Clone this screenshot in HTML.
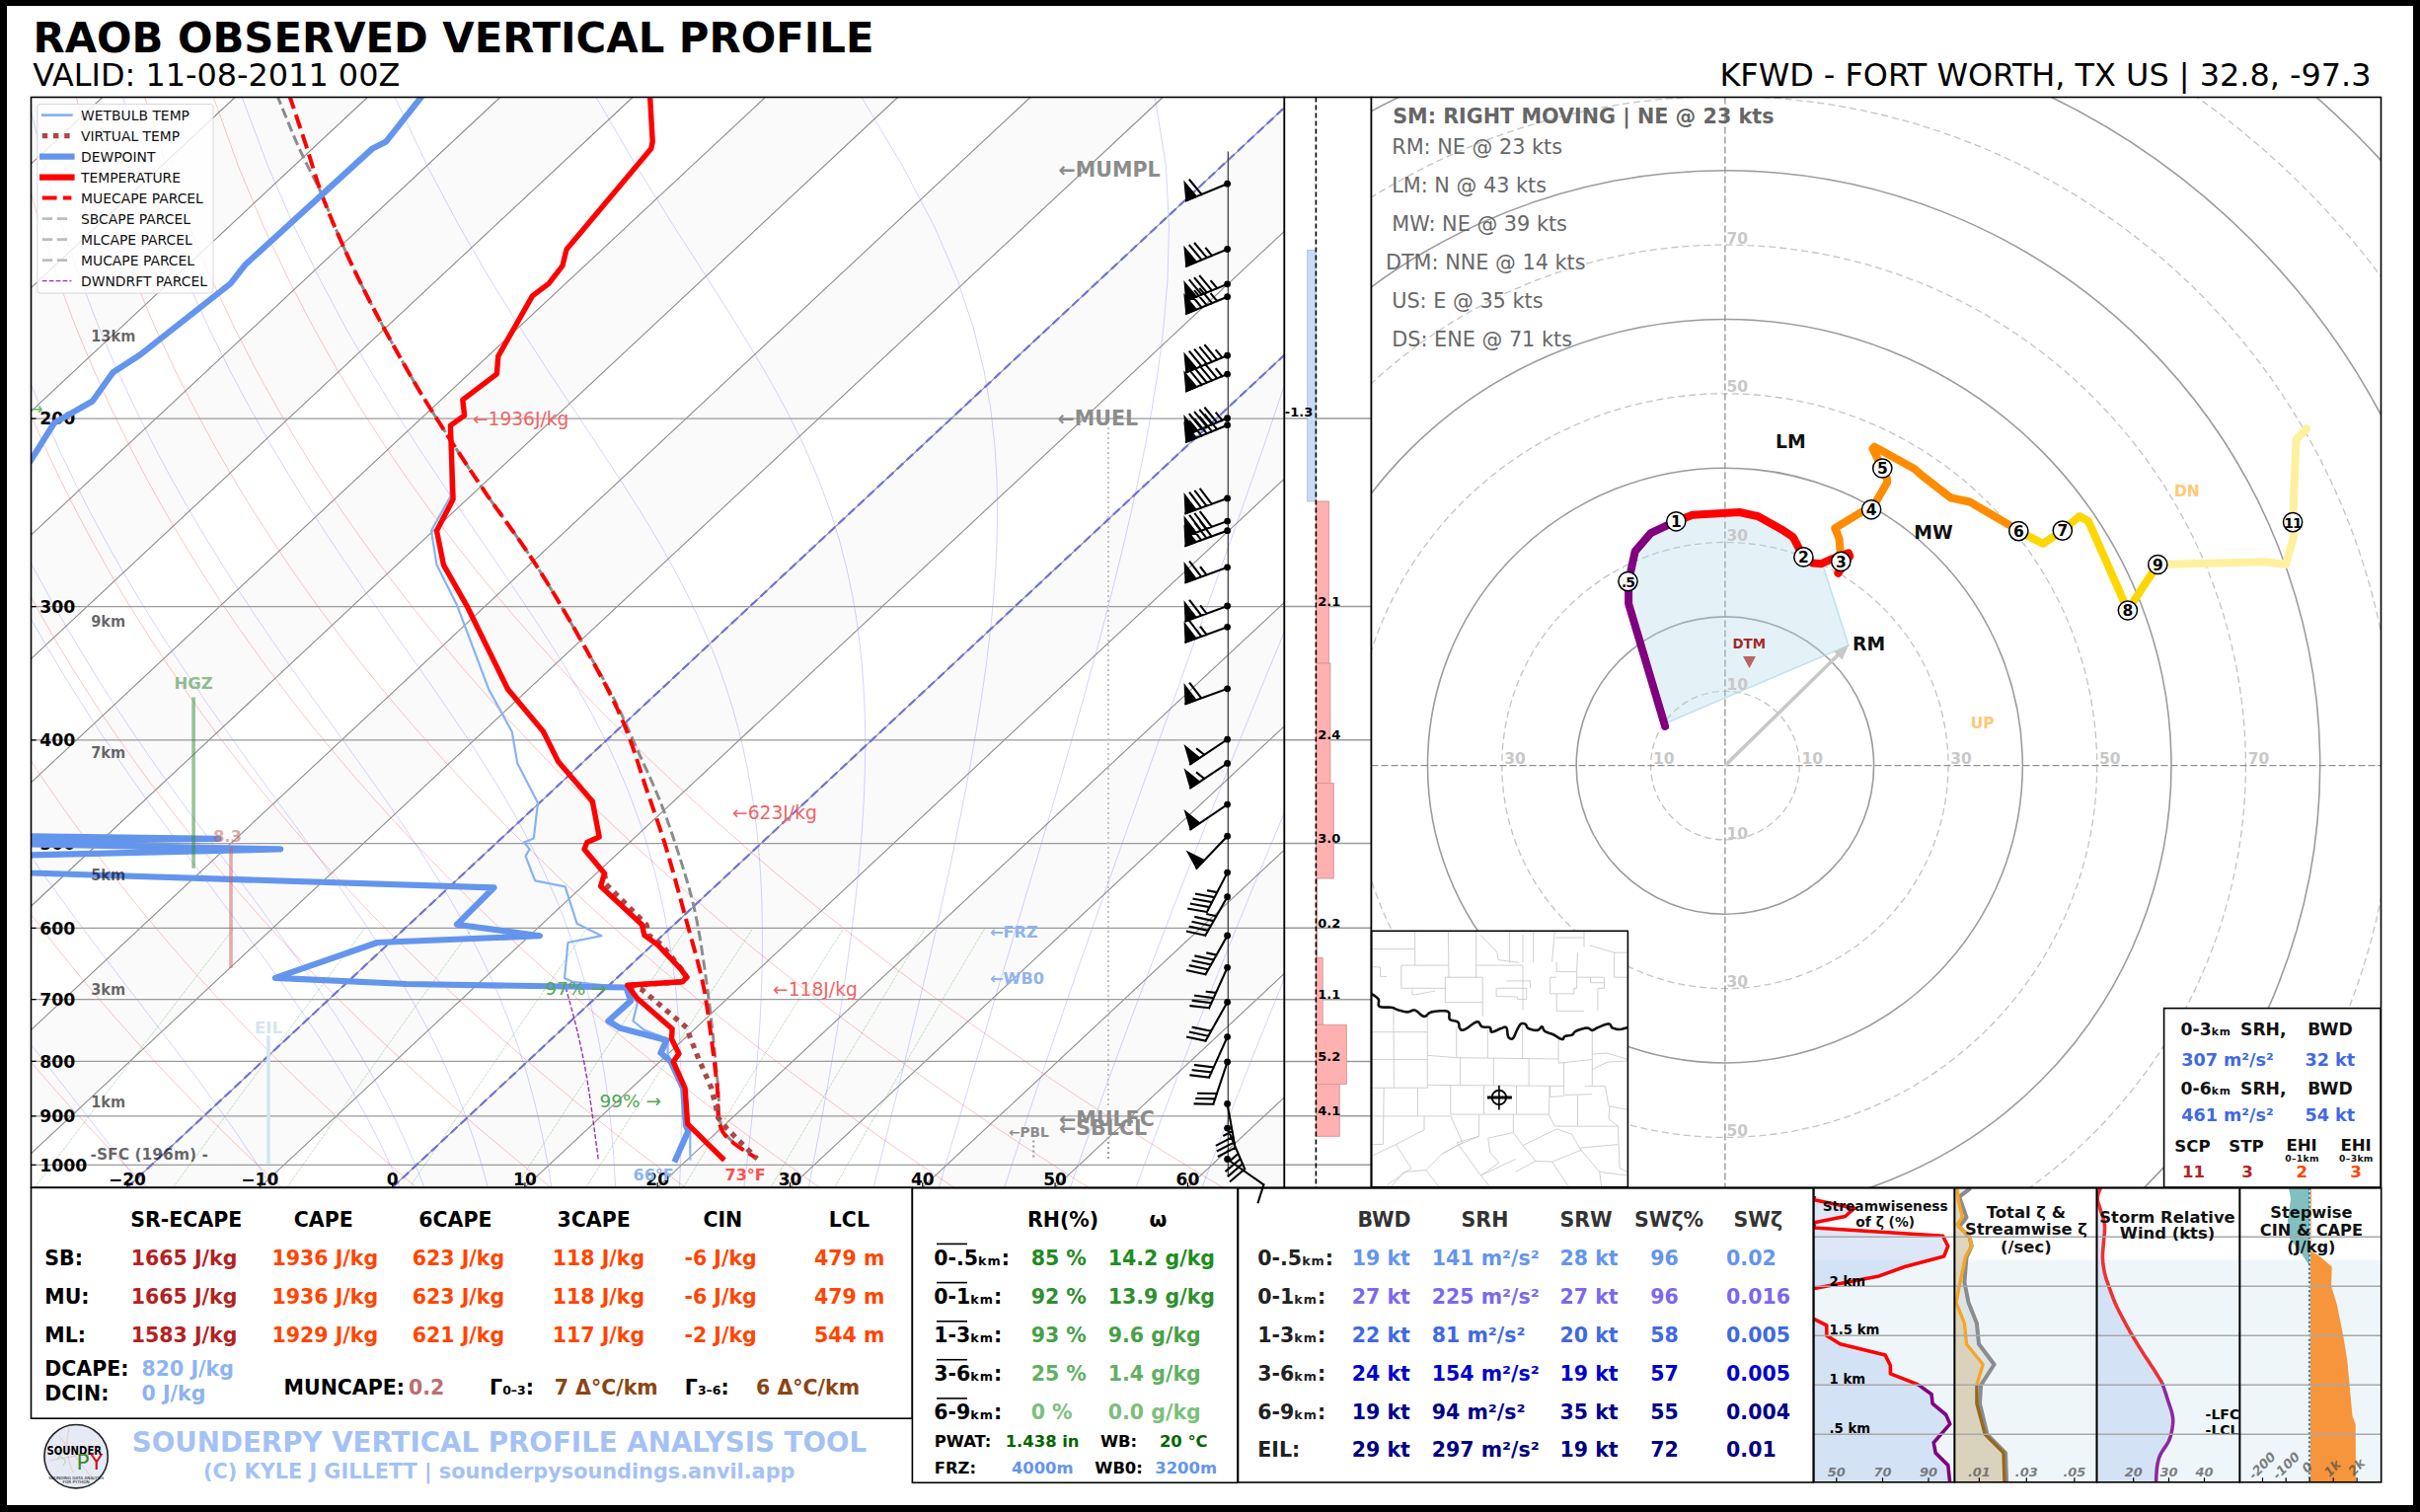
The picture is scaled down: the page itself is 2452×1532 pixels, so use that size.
<!DOCTYPE html><html><head><meta charset="utf-8"><title>RAOB OBSERVED VERTICAL PROFILE</title><style>html,body{margin:0;padding:0;background:#fff;}svg{display:block;}text{font-family:"DejaVu Sans","Liberation Sans",sans-serif;}</style></head><body>
<svg xmlns="http://www.w3.org/2000/svg" width="2452" height="1532" viewBox="0 0 2452 1532">
<defs><clipPath id="cSkew"><rect x="31.5" y="98.5" width="1269.9" height="1104.7"/></clipPath><clipPath id="cHodo"><rect x="1389.5" y="98.5" width="1023" height="1104.7"/></clipPath><clipPath id="cMap"><rect x="1389.6" y="943.3" width="259.8" height="259.5"/></clipPath><clipPath id="cPA"><rect x="1837.9" y="1203.75" width="142.5" height="297.95"/></clipPath><clipPath id="cPB"><rect x="1980.4" y="1203.75" width="144" height="297.95"/></clipPath><clipPath id="cPC"><rect x="2124.6" y="1203.75" width="144.8" height="297.95"/></clipPath><clipPath id="cPD"><rect x="2269.4" y="1203.75" width="143.3" height="297.95"/></clipPath></defs>
<rect x="0" y="0" width="2452" height="1532" fill="#fff"/>
<text x="33.5" y="53" font-size="41.8" fill="#000" font-weight="bold" text-anchor="start" >RAOB OBSERVED VERTICAL PROFILE</text>
<text x="33.2" y="87.1" font-size="31.9" fill="#000" text-anchor="start" >VALID: 11-08-2011 00Z</text>
<text x="2402.5" y="87.3" font-size="31.9" fill="#000" text-anchor="end" >KFWD - FORT WORTH, TX US | 32.8, -97.3</text>
<g clip-path="url(#cSkew)">
<rect x="31.5" y="98.5" width="1269.9" height="1104.7" fill="#fff"/>
<polygon points="-1751.2,1203.2 -1616.9,1203.2 -433.3,98.5 -567.6,98.5" fill="#fafafa"/>
<polygon points="-1482.6,1203.2 -1348.3,1203.2 -164.7,98.5 -299,98.5" fill="#fafafa"/>
<polygon points="-1214,1203.2 -1079.7,1203.2 103.9,98.5 -30.4,98.5" fill="#fafafa"/>
<polygon points="-945.4,1203.2 -811.1,1203.2 372.5,98.5 238.2,98.5" fill="#fafafa"/>
<polygon points="-676.8,1203.2 -542.5,1203.2 641.1,98.5 506.8,98.5" fill="#fafafa"/>
<polygon points="-408.2,1203.2 -273.9,1203.2 909.7,98.5 775.4,98.5" fill="#fafafa"/>
<polygon points="-139.6,1203.2 -5.3,1203.2 1178.3,98.5 1044,98.5" fill="#fafafa"/>
<polygon points="129,1203.2 263.3,1203.2 1446.9,98.5 1312.6,98.5" fill="#fafafa"/>
<polygon points="397.6,1203.2 531.9,1203.2 1715.5,98.5 1581.2,98.5" fill="#fafafa"/>
<polygon points="666.2,1203.2 800.5,1203.2 1984.1,98.5 1849.8,98.5" fill="#fafafa"/>
<polygon points="934.8,1203.2 1069.1,1203.2 2252.7,98.5 2118.4,98.5" fill="#fafafa"/>
<polygon points="1203.4,1203.2 1337.7,1203.2 2521.3,98.5 2387,98.5" fill="#fafafa"/>
<path d="M-259,1203.2 L-264.5,1195.9 L-270,1188.5 L-275.6,1181.1 L-281.2,1173.4 L-286.8,1165.7 L-292.4,1157.8 L-298,1149.8 L-303.7,1141.7 L-309.4,1133.4 L-315.1,1125 L-320.9,1116.4 L-326.7,1107.6 L-332.5,1098.7 L-338.3,1089.6 L-344.2,1080.4 L-350.1,1070.9 L-356,1061.3 L-362,1051.4 L-367.9,1041.4 L-373.9,1031.1 L-379.9,1020.6 L-386,1009.8 L-392,998.8 L-398.1,987.6 L-404.2,976 L-410.4,964.2 L-416.5,952.1 L-422.7,939.6 L-428.9,926.8 L-435.1,913.6 L-441.3,900.1 L-447.5,886.2 L-453.7,871.8 L-459.9,857 L-466.1,841.7 L-472.3,825.9 L-478.5,809.5 L-484.6,792.6 L-490.7,775 L-496.8,756.7 L-502.8,737.7 L-508.8,717.9 L-514.6,697.2 L-520.4,675.5 L-526,652.8 L-531.5,629 L-536.8,603.9 L-541.9,577.4 L-546.6,549.2 L-551.1,519.3 L-555.1,487.4 L-558.5,453.1 L-561.4,416.1 L-563.4,376 L-564.3,332.1 L-563.9,283.6 L-561.6,229.7 L-557,168.6 L-548.9,98.5 M-122.9,1203.2 L-128.9,1195.9 L-135.1,1188.5 L-141.2,1181.1 L-147.4,1173.4 L-153.6,1165.7 L-159.9,1157.8 L-166.2,1149.8 L-172.5,1141.7 L-178.9,1133.4 L-185.3,1125 L-191.7,1116.4 L-198.2,1107.6 L-204.7,1098.7 L-211.2,1089.6 L-217.8,1080.4 L-224.4,1070.9 L-231.1,1061.3 L-237.8,1051.4 L-244.5,1041.4 L-251.3,1031.1 L-258.1,1020.6 L-264.9,1009.8 L-271.8,998.8 L-278.7,987.6 L-285.6,976 L-292.6,964.2 L-299.6,952.1 L-306.7,939.6 L-313.8,926.8 L-320.9,913.6 L-328,900.1 L-335.2,886.2 L-342.4,871.8 L-349.6,857 L-356.8,841.7 L-364,825.9 L-371.3,809.5 L-378.5,792.6 L-385.8,775 L-393,756.7 L-400.2,737.7 L-407.4,717.9 L-414.5,697.2 L-421.6,675.5 L-428.6,652.8 L-435.5,629 L-442.2,603.9 L-448.8,577.4 L-455.1,549.2 L-461.2,519.3 L-466.9,487.4 L-472.2,453.1 L-477,416.1 L-481,376 L-484.1,332.1 L-486,283.6 L-486.3,229.7 L-484.4,168.6 L-479.3,98.5 M13.3,1203.2 L6.6,1195.9 L-0.1,1188.5 L-6.9,1181.1 L-13.7,1173.4 L-20.5,1165.7 L-27.4,1157.8 L-34.4,1149.8 L-41.3,1141.7 L-48.4,1133.4 L-55.4,1125 L-62.5,1116.4 L-69.7,1107.6 L-76.9,1098.7 L-84.1,1089.6 L-91.4,1080.4 L-98.8,1070.9 L-106.2,1061.3 L-113.6,1051.4 L-121.1,1041.4 L-128.6,1031.1 L-136.2,1020.6 L-143.8,1009.8 L-151.5,998.8 L-159.2,987.6 L-167,976 L-174.8,964.2 L-182.7,952.1 L-190.7,939.6 L-198.6,926.8 L-206.7,913.6 L-214.7,900.1 L-222.9,886.2 L-231,871.8 L-239.2,857 L-247.5,841.7 L-255.8,825.9 L-264.1,809.5 L-272.4,792.6 L-280.8,775 L-289.2,756.7 L-297.6,737.7 L-306,717.9 L-314.4,697.2 L-322.8,675.5 L-331.1,652.8 L-339.4,629 L-347.6,603.9 L-355.7,577.4 L-363.6,549.2 L-371.4,519.3 L-378.8,487.4 L-385.9,453.1 L-392.6,416.1 L-398.7,376 L-403.9,332.1 L-408.2,283.6 L-411,229.7 L-411.8,168.6 L-409.7,98.5 M149.5,1203.2 L142.2,1195.9 L134.9,1188.5 L127.5,1181.1 L120.1,1173.4 L112.6,1165.7 L105.1,1157.8 L97.5,1149.8 L89.9,1141.7 L82.2,1133.4 L74.4,1125 L66.7,1116.4 L58.8,1107.6 L50.9,1098.7 L43,1089.6 L35,1080.4 L26.9,1070.9 L18.8,1061.3 L10.6,1051.4 L2.3,1041.4 L-6,1031.1 L-14.3,1020.6 L-22.7,1009.8 L-31.2,998.8 L-39.8,987.6 L-48.4,976 L-57.1,964.2 L-65.8,952.1 L-74.6,939.6 L-83.5,926.8 L-92.5,913.6 L-101.5,900.1 L-110.5,886.2 L-119.7,871.8 L-128.9,857 L-138.2,841.7 L-147.5,825.9 L-156.9,809.5 L-166.3,792.6 L-175.8,775 L-185.4,756.7 L-195,737.7 L-204.6,717.9 L-214.3,697.2 L-224,675.5 L-233.7,652.8 L-243.4,629 L-253,603.9 L-262.6,577.4 L-272.1,549.2 L-281.5,519.3 L-290.7,487.4 L-299.6,453.1 L-308.2,416.1 L-316.3,376 L-323.8,332.1 L-330.3,283.6 L-335.6,229.7 L-339.2,168.6 L-340.2,98.5 M285.7,1203.2 L277.8,1195.9 L269.9,1188.5 L261.9,1181.1 L253.8,1173.4 L245.7,1165.7 L237.5,1157.8 L229.3,1149.8 L221,1141.7 L212.7,1133.4 L204.3,1125 L195.8,1116.4 L187.3,1107.6 L178.7,1098.7 L170.1,1089.6 L161.3,1080.4 L152.6,1070.9 L143.7,1061.3 L134.8,1051.4 L125.8,1041.4 L116.7,1031.1 L107.6,1020.6 L98.3,1009.8 L89,998.8 L79.7,987.6 L70.2,976 L60.7,964.2 L51.1,952.1 L41.4,939.6 L31.6,926.8 L21.7,913.6 L11.8,900.1 L1.8,886.2 L-8.4,871.8 L-18.6,857 L-28.9,841.7 L-39.2,825.9 L-49.7,809.5 L-60.2,792.6 L-70.9,775 L-81.6,756.7 L-92.4,737.7 L-103.3,717.9 L-114.2,697.2 L-125.2,675.5 L-136.2,652.8 L-147.3,629 L-158.4,603.9 L-169.6,577.4 L-180.6,549.2 L-191.7,519.3 L-202.6,487.4 L-213.3,453.1 L-223.8,416.1 L-234,376 L-243.6,332.1 L-252.5,283.6 L-260.3,229.7 L-266.6,168.6 L-270.6,98.5 M421.9,1203.2 L413.4,1195.9 L404.8,1188.5 L396.2,1181.1 L387.6,1173.4 L378.8,1165.7 L370,1157.8 L361.2,1149.8 L352.2,1141.7 L343.2,1133.4 L334.2,1125 L325,1116.4 L315.8,1107.6 L306.5,1098.7 L297.2,1089.6 L287.7,1080.4 L278.2,1070.9 L268.6,1061.3 L258.9,1051.4 L249.2,1041.4 L239.4,1031.1 L229.4,1020.6 L219.4,1009.8 L209.3,998.8 L199.1,987.6 L188.8,976 L178.4,964.2 L168,952.1 L157.4,939.6 L146.7,926.8 L135.9,913.6 L125.1,900.1 L114.1,886.2 L103,871.8 L91.8,857 L80.5,841.7 L69,825.9 L57.5,809.5 L45.8,792.6 L34.1,775 L22.2,756.7 L10.2,737.7 L-1.9,717.9 L-14.1,697.2 L-26.4,675.5 L-38.8,652.8 L-51.3,629 L-63.8,603.9 L-76.5,577.4 L-89.1,549.2 L-101.8,519.3 L-114.5,487.4 L-127,453.1 L-139.4,416.1 L-151.6,376 L-163.4,332.1 L-174.6,283.6 L-185,229.7 L-194,168.6 L-201,98.5 M558.1,1203.2 L549,1195.9 L539.8,1188.5 L530.6,1181.1 L521.3,1173.4 L511.9,1165.7 L502.5,1157.8 L493,1149.8 L483.4,1141.7 L473.8,1133.4 L464,1125 L454.2,1116.4 L444.3,1107.6 L434.3,1098.7 L424.3,1089.6 L414.1,1080.4 L403.9,1070.9 L393.5,1061.3 L383.1,1051.4 L372.6,1041.4 L362,1031.1 L351.3,1020.6 L340.5,1009.8 L329.6,998.8 L318.6,987.6 L307.4,976 L296.2,964.2 L284.9,952.1 L273.4,939.6 L261.8,926.8 L250.1,913.6 L238.3,900.1 L226.4,886.2 L214.3,871.8 L202.1,857 L189.8,841.7 L177.3,825.9 L164.7,809.5 L151.9,792.6 L139,775 L126,756.7 L112.8,737.7 L99.5,717.9 L86,697.2 L72.4,675.5 L58.7,652.8 L44.8,629 L30.7,603.9 L16.6,577.4 L2.4,549.2 L-12,519.3 L-26.3,487.4 L-40.7,453.1 L-55.1,416.1 L-69.3,376 L-83.2,332.1 L-96.8,283.6 L-109.6,229.7 L-121.4,168.6 L-131.5,98.5 M694.3,1203.2 L684.6,1195.9 L674.8,1188.5 L665,1181.1 L655.1,1173.4 L645.1,1165.7 L635,1157.8 L624.8,1149.8 L614.6,1141.7 L604.3,1133.4 L593.9,1125 L583.4,1116.4 L572.8,1107.6 L562.1,1098.7 L551.4,1089.6 L540.5,1080.4 L529.5,1070.9 L518.5,1061.3 L507.3,1051.4 L496,1041.4 L484.7,1031.1 L473.2,1020.6 L461.6,1009.8 L449.8,998.8 L438,987.6 L426.1,976 L414,964.2 L401.8,952.1 L389.4,939.6 L376.9,926.8 L364.3,913.6 L351.6,900.1 L338.7,886.2 L325.6,871.8 L312.4,857 L299.1,841.7 L285.6,825.9 L271.9,809.5 L258,792.6 L244,775 L229.8,756.7 L215.4,737.7 L200.9,717.9 L186.1,697.2 L171.2,675.5 L156.1,652.8 L140.8,629 L125.3,603.9 L109.7,577.4 L93.9,549.2 L77.9,519.3 L61.8,487.4 L45.6,453.1 L29.3,416.1 L13.1,376 L-3,332.1 L-18.9,283.6 L-34.3,229.7 L-48.8,168.6 L-61.9,98.5 M830.4,1203.2 L820.1,1195.9 L809.8,1188.5 L799.3,1181.1 L788.8,1173.4 L778.2,1165.7 L767.5,1157.8 L756.7,1149.8 L745.8,1141.7 L734.8,1133.4 L723.7,1125 L712.6,1116.4 L701.3,1107.6 L689.9,1098.7 L678.5,1089.6 L666.9,1080.4 L655.2,1070.9 L643.4,1061.3 L631.5,1051.4 L619.5,1041.4 L607.3,1031.1 L595,1020.6 L582.6,1009.8 L570.1,998.8 L557.5,987.6 L544.7,976 L531.7,964.2 L518.7,952.1 L505.4,939.6 L492.1,926.8 L478.5,913.6 L464.8,900.1 L451,886.2 L437,871.8 L422.8,857 L408.4,841.7 L393.8,825.9 L379.1,809.5 L364.1,792.6 L349,775 L333.6,756.7 L318,737.7 L302.3,717.9 L286.3,697.2 L270,675.5 L253.6,652.8 L236.9,629 L219.9,603.9 L202.8,577.4 L185.4,549.2 L167.7,519.3 L149.9,487.4 L131.9,453.1 L113.7,416.1 L95.4,376 L77.1,332.1 L58.9,283.6 L41.1,229.7 L23.8,168.6 L7.6,98.5 M966.6,1203.2 L955.7,1195.9 L944.8,1188.5 L933.7,1181.1 L922.5,1173.4 L911.3,1165.7 L900,1157.8 L888.5,1149.8 L877,1141.7 L865.3,1133.4 L853.6,1125 L841.8,1116.4 L829.8,1107.6 L817.7,1098.7 L805.6,1089.6 L793.3,1080.4 L780.9,1070.9 L768.3,1061.3 L755.7,1051.4 L742.9,1041.4 L730,1031.1 L716.9,1020.6 L703.7,1009.8 L690.4,998.8 L676.9,987.6 L663.3,976 L649.5,964.2 L635.6,952.1 L621.5,939.6 L607.2,926.8 L592.7,913.6 L578.1,900.1 L563.3,886.2 L548.3,871.8 L533.1,857 L517.7,841.7 L502.1,825.9 L486.3,809.5 L470.2,792.6 L453.9,775 L437.4,756.7 L420.7,737.7 L403.6,717.9 L386.4,697.2 L368.8,675.5 L351,652.8 L332.9,629 L314.5,603.9 L295.8,577.4 L276.9,549.2 L257.6,519.3 L238,487.4 L218.2,453.1 L198.1,416.1 L177.8,376 L157.3,332.1 L136.8,283.6 L116.4,229.7 L96.4,168.6 L77.2,98.5 M1102.8,1203.2 L1091.3,1195.9 L1079.7,1188.5 L1068.1,1181.1 L1056.3,1173.4 L1044.4,1165.7 L1032.4,1157.8 L1020.4,1149.8 L1008.2,1141.7 L995.9,1133.4 L983.5,1125 L970.9,1116.4 L958.3,1107.6 L945.5,1098.7 L932.7,1089.6 L919.7,1080.4 L906.5,1070.9 L893.3,1061.3 L879.8,1051.4 L866.3,1041.4 L852.6,1031.1 L838.8,1020.6 L824.8,1009.8 L810.7,998.8 L796.4,987.6 L781.9,976 L767.3,964.2 L752.5,952.1 L737.5,939.6 L722.3,926.8 L706.9,913.6 L691.4,900.1 L675.6,886.2 L659.6,871.8 L643.4,857 L627,841.7 L610.3,825.9 L593.5,809.5 L576.3,792.6 L558.9,775 L541.2,756.7 L523.3,737.7 L505,717.9 L486.5,697.2 L467.6,675.5 L448.5,652.8 L429,629 L409.1,603.9 L388.9,577.4 L368.4,549.2 L347.4,519.3 L326.1,487.4 L304.5,453.1 L282.5,416.1 L260.1,376 L237.5,332.1 L214.7,283.6 L191.7,229.7 L169,168.6 L146.8,98.5 M1239,1203.2 L1226.9,1195.9 L1214.7,1188.5 L1202.4,1181.1 L1190,1173.4 L1177.5,1165.7 L1164.9,1157.8 L1152.2,1149.8 L1139.4,1141.7 L1126.4,1133.4 L1113.3,1125 L1100.1,1116.4 L1086.8,1107.6 L1073.3,1098.7 L1059.8,1089.6 L1046,1080.4 L1032.2,1070.9 L1018.2,1061.3 L1004,1051.4 L989.7,1041.4 L975.3,1031.1 L960.7,1020.6 L945.9,1009.8 L930.9,998.8 L915.8,987.6 L900.5,976 L885,964.2 L869.4,952.1 L853.5,939.6 L837.4,926.8 L821.1,913.6 L804.6,900.1 L787.9,886.2 L771,871.8 L753.8,857 L736.3,841.7 L718.6,825.9 L700.6,809.5 L682.4,792.6 L663.9,775 L645,756.7 L625.9,737.7 L606.4,717.9 L586.6,697.2 L566.4,675.5 L545.9,652.8 L525,629 L503.7,603.9 L482,577.4 L459.9,549.2 L437.3,519.3 L414.3,487.4 L390.8,453.1 L366.9,416.1 L342.5,376 L317.7,332.1 L292.5,283.6 L267.1,229.7 L241.6,168.6 L216.3,98.5" fill="none" stroke="#ff0000" stroke-opacity="0.3" stroke-width="0.8"/>
<path d="M10.8,1203.2 L5,1195.9 L-0.9,1188.5 L-6.9,1181.1 L-13,1173.4 L-19.2,1165.7 L-25.5,1157.8 L-31.8,1149.8 L-38.3,1141.7 L-44.8,1133.4 L-51.4,1125 L-58.1,1116.4 L-64.8,1107.6 L-71.7,1098.7 L-78.6,1089.6 L-85.6,1080.4 L-92.7,1070.9 L-99.8,1061.3 L-107,1051.4 L-114.3,1041.4 L-121.7,1031.1 L-129.1,1020.6 L-136.6,1009.8 L-144.2,998.8 L-151.9,987.6 L-159.6,976 L-167.3,964.2 L-175.2,952.1 L-183.1,939.6 L-191,926.8 L-199,913.6 L-207.1,900.1 L-215.2,886.2 L-223.4,871.8 L-231.6,857 L-239.9,841.7 L-248.2,825.9 L-256.6,809.5 L-265,792.6 L-273.4,775 L-281.8,756.7 L-290.3,737.7 L-298.8,717.9 L-307.2,697.2 L-315.7,675.5 L-324.1,652.8 L-332.4,629 L-340.7,603.9 L-348.9,577.4 L-356.9,549.2 L-364.7,519.3 L-372.2,487.4 L-379.4,453.1 L-386.2,416.1 L-392.4,376 L-397.8,332.1 L-402.1,283.6 L-405,229.7 L-406,168.6 L-404.1,98.5 M144.1,1203.2 L138.6,1195.9 L133.1,1188.5 L127.3,1181.1 L121.5,1173.4 L115.5,1165.7 L109.4,1157.8 L103.2,1149.8 L96.8,1141.7 L90.3,1133.4 L83.7,1125 L76.9,1116.4 L70.1,1107.6 L63.1,1098.7 L55.9,1089.6 L48.7,1080.4 L41.3,1070.9 L33.8,1061.3 L26.2,1051.4 L18.4,1041.4 L10.6,1031.1 L2.6,1020.6 L-5.5,1009.8 L-13.6,998.8 L-21.9,987.6 L-30.4,976 L-38.9,964.2 L-47.5,952.1 L-56.2,939.6 L-65,926.8 L-73.9,913.6 L-82.9,900.1 L-92,886.2 L-101.2,871.8 L-110.4,857 L-119.8,841.7 L-129.2,825.9 L-138.7,809.5 L-148.3,792.6 L-157.9,775 L-167.6,756.7 L-177.4,737.7 L-187.2,717.9 L-197,697.2 L-206.9,675.5 L-216.8,652.8 L-226.7,629 L-236.5,603.9 L-246.4,577.4 L-256.1,549.2 L-265.7,519.3 L-275.2,487.4 L-284.4,453.1 L-293.3,416.1 L-301.7,376 L-309.5,332.1 L-316.4,283.6 L-322.1,229.7 L-326,168.6 L-327.5,98.5 M275.5,1203.2 L271,1195.9 L266.4,1188.5 L261.5,1181.1 L256.6,1173.4 L251.4,1165.7 L246.1,1157.8 L240.7,1149.8 L235,1141.7 L229.2,1133.4 L223.2,1125 L217,1116.4 L210.6,1107.6 L204.1,1098.7 L197.4,1089.6 L190.4,1080.4 L183.3,1070.9 L176,1061.3 L168.5,1051.4 L160.8,1041.4 L152.9,1031.1 L144.8,1020.6 L136.6,1009.8 L128.1,998.8 L119.5,987.6 L110.7,976 L101.7,964.2 L92.5,952.1 L83.2,939.6 L73.7,926.8 L64,913.6 L54.2,900.1 L44.2,886.2 L34.1,871.8 L23.8,857 L13.4,841.7 L2.9,825.9 L-7.8,809.5 L-18.6,792.6 L-29.6,775 L-40.6,756.7 L-51.8,737.7 L-63,717.9 L-74.4,697.2 L-85.8,675.5 L-97.4,652.8 L-109,629 L-120.6,603.9 L-132.3,577.4 L-143.9,549.2 L-155.6,519.3 L-167.2,487.4 L-178.6,453.1 L-189.8,416.1 L-200.7,376 L-211.2,332.1 L-220.9,283.6 L-229.7,229.7 L-237,168.6 L-242.2,98.5 M405.3,1203.2 L402.2,1195.9 L399,1188.5 L395.7,1181.1 L392.2,1173.4 L388.6,1165.7 L384.8,1157.8 L380.8,1149.8 L376.6,1141.7 L372.3,1133.4 L367.8,1125 L363,1116.4 L358.1,1107.6 L352.9,1098.7 L347.6,1089.6 L341.9,1080.4 L336.1,1070.9 L330,1061.3 L323.6,1051.4 L316.9,1041.4 L310,1031.1 L302.8,1020.6 L295.4,1009.8 L287.6,998.8 L279.5,987.6 L271.2,976 L262.5,964.2 L253.6,952.1 L244.3,939.6 L234.7,926.8 L224.9,913.6 L214.8,900.1 L204.3,886.2 L193.6,871.8 L182.6,857 L171.4,841.7 L159.9,825.9 L148.1,809.5 L136.1,792.6 L123.9,775 L111.4,756.7 L98.7,737.7 L85.9,717.9 L72.8,697.2 L59.5,675.5 L46.1,652.8 L32.5,629 L18.8,603.9 L4.9,577.4 L-9,549.2 L-23.1,519.3 L-37.2,487.4 L-51.3,453.1 L-65.3,416.1 L-79.2,376 L-92.9,332.1 L-106.1,283.6 L-118.6,229.7 L-129.9,168.6 L-139.6,98.5 M429.8,1203.2 L427.1,1195.9 L424.2,1188.5 L421.2,1181.1 L418,1173.4 L414.7,1165.7 L411.2,1157.8 L407.6,1149.8 L403.8,1141.7 L399.9,1133.4 L395.7,1125 L391.3,1116.4 L386.8,1107.6 L382,1098.7 L377,1089.6 L371.7,1080.4 L366.3,1070.9 L360.5,1061.3 L354.5,1051.4 L348.2,1041.4 L341.7,1031.1 L334.8,1020.6 L327.7,1009.8 L320.2,998.8 L312.4,987.6 L304.3,976 L295.9,964.2 L287.2,952.1 L278.1,939.6 L268.7,926.8 L259,913.6 L248.9,900.1 L238.5,886.2 L227.8,871.8 L216.8,857 L205.5,841.7 L193.9,825.9 L182,809.5 L169.8,792.6 L157.3,775 L144.6,756.7 L131.7,737.7 L118.5,717.9 L105.1,697.2 L91.5,675.5 L77.7,652.8 L63.6,629 L49.5,603.9 L35.1,577.4 L20.7,549.2 L6.1,519.3 L-8.6,487.4 L-23.3,453.1 L-37.9,416.1 L-52.5,376 L-66.8,332.1 L-80.8,283.6 L-94.1,229.7 L-106.4,168.6 L-117,98.5 M494.3,1203.2 L492.4,1195.9 L490.4,1188.5 L488.2,1181.1 L486,1173.4 L483.6,1165.7 L481.1,1157.8 L478.4,1149.8 L475.6,1141.7 L472.7,1133.4 L469.6,1125 L466.3,1116.4 L462.8,1107.6 L459.2,1098.7 L455.3,1089.6 L451.2,1080.4 L446.9,1070.9 L442.4,1061.3 L437.5,1051.4 L432.5,1041.4 L427.1,1031.1 L421.4,1020.6 L415.4,1009.8 L409.1,998.8 L402.5,987.6 L395.4,976 L388,964.2 L380.3,952.1 L372.1,939.6 L363.5,926.8 L354.5,913.6 L345,900.1 L335.2,886.2 L324.9,871.8 L314.2,857 L303,841.7 L291.4,825.9 L279.4,809.5 L267,792.6 L254.2,775 L241,756.7 L227.4,737.7 L213.5,717.9 L199.2,697.2 L184.7,675.5 L169.8,652.8 L154.6,629 L139.2,603.9 L123.5,577.4 L107.6,549.2 L91.5,519.3 L75.2,487.4 L58.8,453.1 L42.4,416.1 L25.9,376 L9.5,332.1 L-6.7,283.6 L-22.4,229.7 L-37.3,168.6 L-50.8,98.5 M558.9,1203.2 L557.7,1195.9 L556.6,1188.5 L555.3,1181.1 L553.9,1173.4 L552.5,1165.7 L550.9,1157.8 L549.3,1149.8 L547.5,1141.7 L545.6,1133.4 L543.6,1125 L541.5,1116.4 L539.2,1107.6 L536.8,1098.7 L534.2,1089.6 L531.4,1080.4 L528.4,1070.9 L525.3,1061.3 L521.9,1051.4 L518.2,1041.4 L514.4,1031.1 L510.2,1020.6 L505.8,1009.8 L501.1,998.8 L496,987.6 L490.6,976 L484.8,964.2 L478.6,952.1 L472,939.6 L465,926.8 L457.5,913.6 L449.5,900.1 L440.9,886.2 L431.9,871.8 L422.3,857 L412.1,841.7 L401.3,825.9 L389.9,809.5 L378,792.6 L365.5,775 L352.3,756.7 L338.6,737.7 L324.4,717.9 L309.6,697.2 L294.2,675.5 L278.4,652.8 L262.2,629 L245.5,603.9 L228.4,577.4 L210.9,549.2 L193.1,519.3 L175,487.4 L156.6,453.1 L138,416.1 L119.2,376 L100.4,332.1 L81.6,283.6 L63.1,229.7 L45.1,168.6 L28.1,98.5 M623.6,1203.2 L623.2,1195.9 L622.8,1188.5 L622.3,1181.1 L621.8,1173.4 L621.3,1165.7 L620.6,1157.8 L619.9,1149.8 L619.2,1141.7 L618.3,1133.4 L617.4,1125 L616.4,1116.4 L615.2,1107.6 L614,1098.7 L612.7,1089.6 L611.2,1080.4 L609.6,1070.9 L607.9,1061.3 L606,1051.4 L603.9,1041.4 L601.6,1031.1 L599.2,1020.6 L596.5,1009.8 L593.6,998.8 L590.4,987.6 L586.9,976 L583.2,964.2 L579.1,952.1 L574.6,939.6 L569.8,926.8 L564.5,913.6 L558.7,900.1 L552.5,886.2 L545.7,871.8 L538.3,857 L530.3,841.7 L521.6,825.9 L512.2,809.5 L502,792.6 L491.1,775 L479.3,756.7 L466.7,737.7 L453.2,717.9 L438.9,697.2 L423.7,675.5 L407.7,652.8 L390.9,629 L373.4,603.9 L355.1,577.4 L336.1,549.2 L316.5,519.3 L296.4,487.4 L275.7,453.1 L254.7,416.1 L233.2,376 L211.4,332.1 L189.4,283.6 L167.4,229.7 L145.6,168.6 L124.5,98.5 M688.5,1203.2 L688.8,1195.9 L689.1,1188.5 L689.4,1181.1 L689.7,1173.4 L689.9,1165.7 L690.1,1157.8 L690.2,1149.8 L690.4,1141.7 L690.4,1133.4 L690.5,1125 L690.5,1116.4 L690.4,1107.6 L690.3,1098.7 L690.1,1089.6 L689.8,1080.4 L689.5,1070.9 L689.1,1061.3 L688.6,1051.4 L687.9,1041.4 L687.2,1031.1 L686.4,1020.6 L685.4,1009.8 L684.3,998.8 L683,987.6 L681.5,976 L679.8,964.2 L677.9,952.1 L675.8,939.6 L673.4,926.8 L670.6,913.6 L667.6,900.1 L664.1,886.2 L660.3,871.8 L655.9,857 L651.1,841.7 L645.6,825.9 L639.6,809.5 L632.8,792.6 L625.2,775 L616.7,756.7 L607.2,737.7 L596.8,717.9 L585.1,697.2 L572.3,675.5 L558.2,652.8 L542.8,629 L526.1,603.9 L508.1,577.4 L488.7,549.2 L468.2,519.3 L446.5,487.4 L423.7,453.1 L400,416.1 L375.5,376 L350.2,332.1 L324.4,283.6 L298.1,229.7 L271.6,168.6 L245.2,98.5 M753.8,1203.2 L754.7,1195.9 L755.6,1188.5 L756.5,1181.1 L757.4,1173.4 L758.3,1165.7 L759.2,1157.8 L760.1,1149.8 L761,1141.7 L761.9,1133.4 L762.7,1125 L763.6,1116.4 L764.4,1107.6 L765.2,1098.7 L766,1089.6 L766.8,1080.4 L767.5,1070.9 L768.3,1061.3 L768.9,1051.4 L769.6,1041.4 L770.2,1031.1 L770.7,1020.6 L771.2,1009.8 L771.6,998.8 L772,987.6 L772.3,976 L772.4,964.2 L772.5,952.1 L772.4,939.6 L772.2,926.8 L771.9,913.6 L771.3,900.1 L770.6,886.2 L769.6,871.8 L768.4,857 L766.8,841.7 L764.9,825.9 L762.6,809.5 L759.8,792.6 L756.5,775 L752.6,756.7 L747.9,737.7 L742.4,717.9 L735.9,697.2 L728.4,675.5 L719.5,652.8 L709.2,629 L697.2,603.9 L683.4,577.4 L667.6,549.2 L649.6,519.3 L629.3,487.4 L606.8,453.1 L582.2,416.1 L555.5,376 L527,332.1 L496.9,283.6 L465.6,229.7 L433.2,168.6 L400.2,98.5 M819.3,1203.2 L820.7,1195.9 L822.2,1188.5 L823.6,1181.1 L825,1173.4 L826.5,1165.7 L828,1157.8 L829.5,1149.8 L831,1141.7 L832.5,1133.4 L834.1,1125 L835.6,1116.4 L837.2,1107.6 L838.8,1098.7 L840.4,1089.6 L842,1080.4 L843.6,1070.9 L845.3,1061.3 L846.9,1051.4 L848.6,1041.4 L850.2,1031.1 L851.9,1020.6 L853.6,1009.8 L855.2,998.8 L856.9,987.6 L858.5,976 L860.2,964.2 L861.8,952.1 L863.4,939.6 L865,926.8 L866.5,913.6 L868,900.1 L869.5,886.2 L870.8,871.8 L872.1,857 L873.3,841.7 L874.4,825.9 L875.3,809.5 L876,792.6 L876.5,775 L876.7,756.7 L876.6,737.7 L876.1,717.9 L875.1,697.2 L873.5,675.5 L871.2,652.8 L868.1,629 L863.8,603.9 L858.2,577.4 L851,549.2 L841.8,519.3 L830,487.4 L815.3,453.1 L797.1,416.1 L774.9,376 L748.5,332.1 L717.8,283.6 L683,229.7 L644.9,168.6 L604.1,98.5 M885.2,1203.2 L887,1195.9 L888.8,1188.5 L890.7,1181.1 L892.6,1173.4 L894.5,1165.7 L896.5,1157.8 L898.4,1149.8 L900.5,1141.7 L902.5,1133.4 L904.6,1125 L906.7,1116.4 L908.9,1107.6 L911.1,1098.7 L913.3,1089.6 L915.5,1080.4 L917.9,1070.9 L920.2,1061.3 L922.6,1051.4 L925,1041.4 L927.5,1031.1 L930,1020.6 L932.6,1009.8 L935.2,998.8 L937.9,987.6 L940.6,976 L943.3,964.2 L946.1,952.1 L949,939.6 L951.9,926.8 L954.8,913.6 L957.8,900.1 L960.8,886.2 L963.9,871.8 L967,857 L970.2,841.7 L973.4,825.9 L976.6,809.5 L979.9,792.6 L983.1,775 L986.4,756.7 L989.6,737.7 L992.8,717.9 L995.9,697.2 L999,675.5 L1001.8,652.8 L1004.5,629 L1006.8,603.9 L1008.7,577.4 L1010,549.2 L1010.6,519.3 L1010.1,487.4 L1008.1,453.1 L1004,416.1 L997.1,376 L986.3,332.1 L970.1,283.6 L946.8,229.7 L914.7,168.6 L873,98.5 M951.3,1203.2 L953.5,1195.9 L955.6,1188.5 L957.8,1181.1 L960,1173.4 L962.3,1165.7 L964.6,1157.8 L967,1149.8 L969.4,1141.7 L971.8,1133.4 L974.3,1125 L976.9,1116.4 L979.5,1107.6 L982.1,1098.7 L984.8,1089.6 L987.6,1080.4 L990.4,1070.9 L993.3,1061.3 L996.3,1051.4 L999.3,1041.4 L1002.4,1031.1 L1005.5,1020.6 L1008.7,1009.8 L1012,998.8 L1015.4,987.6 L1018.9,976 L1022.5,964.2 L1026.1,952.1 L1029.8,939.6 L1033.7,926.8 L1037.6,913.6 L1041.7,900.1 L1045.8,886.2 L1050.1,871.8 L1054.5,857 L1059,841.7 L1063.7,825.9 L1068.5,809.5 L1073.5,792.6 L1078.6,775 L1083.8,756.7 L1089.3,737.7 L1094.9,717.9 L1100.7,697.2 L1106.6,675.5 L1112.8,652.8 L1119.1,629 L1125.6,603.9 L1132.3,577.4 L1139.1,549.2 L1146.1,519.3 L1153.1,487.4 L1160.1,453.1 L1166.9,416.1 L1173.3,376 L1178.9,332.1 L1183,283.6 L1184.5,229.7 L1181.4,168.6 L1170.2,98.5 M1017.7,1203.2 L1020.1,1195.9 L1022.5,1188.5 L1024.9,1181.1 L1027.4,1173.4 L1030,1165.7 L1032.6,1157.8 L1035.2,1149.8 L1037.9,1141.7 L1040.6,1133.4 L1043.4,1125 L1046.3,1116.4 L1049.2,1107.6 L1052.2,1098.7 L1055.3,1089.6 L1058.4,1080.4 L1061.6,1070.9 L1064.9,1061.3 L1068.3,1051.4 L1071.7,1041.4 L1075.2,1031.1 L1078.8,1020.6 L1082.5,1009.8 L1086.3,998.8 L1090.2,987.6 L1094.2,976 L1098.4,964.2 L1102.6,952.1 L1107,939.6 L1111.5,926.8 L1116.1,913.6 L1120.9,900.1 L1125.8,886.2 L1130.9,871.8 L1136.2,857 L1141.6,841.7 L1147.3,825.9 L1153.1,809.5 L1159.2,792.6 L1165.5,775 L1172,756.7 L1178.9,737.7 L1186,717.9 L1193.5,697.2 L1201.2,675.5 L1209.4,652.8 L1217.9,629 L1226.9,603.9 L1236.4,577.4 L1246.4,549.2 L1257,519.3 L1268.2,487.4 L1280.1,453.1 L1292.7,416.1 L1306.2,376 L1320.5,332.1 L1335.8,283.6 L1352,229.7 L1369,168.6 L1386.1,98.5 M1084.3,1203.2 L1086.9,1195.9 L1089.4,1188.5 L1092.1,1181.1 L1094.7,1173.4 L1097.5,1165.7 L1100.3,1157.8 L1103.1,1149.8 L1106,1141.7 L1109,1133.4 L1112,1125 L1115.1,1116.4 L1118.3,1107.6 L1121.5,1098.7 L1124.8,1089.6 L1128.2,1080.4 L1131.7,1070.9 L1135.2,1061.3 L1138.9,1051.4 L1142.6,1041.4 L1146.4,1031.1 L1150.4,1020.6 L1154.4,1009.8 L1158.6,998.8 L1162.8,987.6 L1167.2,976 L1171.7,964.2 L1176.4,952.1 L1181.2,939.6 L1186.1,926.8 L1191.2,913.6 L1196.5,900.1 L1201.9,886.2 L1207.5,871.8 L1213.4,857 L1219.4,841.7 L1225.7,825.9 L1232.3,809.5 L1239,792.6 L1246.1,775 L1253.5,756.7 L1261.2,737.7 L1269.3,717.9 L1277.8,697.2 L1286.7,675.5 L1296.1,652.8 L1306,629 L1316.4,603.9 L1327.5,577.4 L1339.3,549.2 L1351.9,519.3 L1365.4,487.4 L1380,453.1 L1395.7,416.1 L1412.8,376 L1431.5,332.1 L1452.1,283.6 L1475,229.7 L1500.8,168.6 L1530,98.5 M1151.1,1203.2 L1153.7,1195.9 L1156.4,1188.5 L1159.2,1181.1 L1162,1173.4 L1164.9,1165.7 L1167.8,1157.8 L1170.8,1149.8 L1173.8,1141.7 L1176.9,1133.4 L1180.1,1125 L1183.4,1116.4 L1186.7,1107.6 L1190.1,1098.7 L1193.6,1089.6 L1197.2,1080.4 L1200.8,1070.9 L1204.6,1061.3 L1208.4,1051.4 L1212.3,1041.4 L1216.4,1031.1 L1220.5,1020.6 L1224.8,1009.8 L1229.1,998.8 L1233.6,987.6 L1238.3,976 L1243.1,964.2 L1248,952.1 L1253,939.6 L1258.3,926.8 L1263.7,913.6 L1269.3,900.1 L1275,886.2 L1281,871.8 L1287.2,857 L1293.7,841.7 L1300.4,825.9 L1307.3,809.5 L1314.6,792.6 L1322.2,775 L1330.1,756.7 L1338.3,737.7 L1347,717.9 L1356.1,697.2 L1365.7,675.5 L1375.8,652.8 L1386.5,629 L1397.8,603.9 L1409.9,577.4 L1422.7,549.2 L1436.5,519.3 L1451.3,487.4 L1467.3,453.1 L1484.7,416.1 L1503.7,376 L1524.6,332.1 L1547.9,283.6 L1574.1,229.7 L1603.9,168.6 L1638.5,98.5 M1218,1203.2 L1220.7,1195.9 L1223.5,1188.5 L1226.3,1181.1 L1229.2,1173.4 L1232.2,1165.7 L1235.2,1157.8 L1238.3,1149.8 L1241.4,1141.7 L1244.6,1133.4 L1247.9,1125 L1251.2,1116.4 L1254.7,1107.6 L1258.2,1098.7 L1261.8,1089.6 L1265.4,1080.4 L1269.2,1070.9 L1273.1,1061.3 L1277,1051.4 L1281.1,1041.4 L1285.2,1031.1 L1289.5,1020.6 L1293.9,1009.8 L1298.4,998.8 L1303.1,987.6 L1307.9,976 L1312.8,964.2 L1317.9,952.1 L1323.1,939.6 L1328.5,926.8 L1334.1,913.6 L1339.9,900.1 L1345.9,886.2 L1352.1,871.8 L1358.5,857 L1365.2,841.7 L1372.2,825.9 L1379.4,809.5 L1386.9,792.6 L1394.8,775 L1403,756.7 L1411.6,737.7 L1420.6,717.9 L1430.1,697.2 L1440,675.5 L1450.6,652.8 L1461.7,629 L1473.6,603.9 L1486.1,577.4 L1499.6,549.2 L1514,519.3 L1529.5,487.4 L1546.4,453.1 L1564.6,416.1 L1584.7,376 L1606.8,332.1 L1631.5,283.6 L1659.4,229.7 L1691.2,168.6 L1728.3,98.5" fill="none" stroke="#0000ff" stroke-opacity="0.22" stroke-width="0.8"/>
<path d="M35,1203.2 L43.2,1192.5 L51.5,1181.5 L60.1,1170.3 L68.9,1158.8 L77.9,1147 L87.1,1134.9 L96.6,1122.4 L106.4,1109.7 L116.4,1096.6 L126.8,1083.1 L137.4,1069.2 L148.4,1054.9 L159.8,1040.1 L171.6,1024.9 L183.7,1009.1 L196.3,992.8 L209.4,976 L223,958.5 L237.1,940.3 M175.4,1203.2 L183.2,1192.5 L191.2,1181.5 L199.5,1170.3 L207.9,1158.8 L216.5,1147 L225.4,1134.9 L234.5,1122.4 L243.9,1109.7 L253.6,1096.6 L263.5,1083.1 L273.8,1069.2 L284.4,1054.9 L295.3,1040.1 L306.6,1024.9 L318.3,1009.1 L330.4,992.8 L343,976 L356.1,958.5 L369.7,940.3 M290.8,1203.2 L298.3,1192.5 L306.1,1181.5 L314,1170.3 L322.1,1158.8 L330.4,1147 L339,1134.9 L347.8,1122.4 L356.9,1109.7 L366.2,1096.6 L375.8,1083.1 L385.7,1069.2 L395.9,1054.9 L406.5,1040.1 L417.4,1024.9 L428.7,1009.1 L440.5,992.8 L452.6,976 L465.3,958.5 L478.4,940.3 M415,1203.2 L422.2,1192.5 L429.6,1181.5 L437.2,1170.3 L445,1158.8 L453,1147 L461.2,1134.9 L469.6,1122.4 L478.3,1109.7 L487.3,1096.6 L496.5,1083.1 L506,1069.2 L515.9,1054.9 L526,1040.1 L536.5,1024.9 L547.4,1009.1 L558.7,992.8 L570.4,976 L582.5,958.5 L595.2,940.3 M522.1,1203.2 L529.1,1192.5 L536.2,1181.5 L543.5,1170.3 L551,1158.8 L558.7,1147 L566.6,1134.9 L574.7,1122.4 L583.1,1109.7 L591.7,1096.6 L600.6,1083.1 L609.7,1069.2 L619.2,1054.9 L629,1040.1 L639.1,1024.9 L649.6,1009.1 L660.5,992.8 L671.8,976 L683.5,958.5 L695.8,940.3 M593.8,1203.2 L600.5,1192.5 L607.5,1181.5 L614.6,1170.3 L621.8,1158.8 L629.3,1147 L637,1134.9 L644.9,1122.4 L653.1,1109.7 L661.5,1096.6 L670.1,1083.1 L679,1069.2 L688.3,1054.9 L697.8,1040.1 L707.7,1024.9 L717.9,1009.1 L728.5,992.8 L739.5,976 L751,958.5 L762.9,940.3 M692.3,1203.2 L698.8,1192.5 L705.4,1181.5 L712.2,1170.3 L719.2,1158.8 L726.4,1147 L733.8,1134.9 L741.4,1122.4 L749.2,1109.7 L757.3,1096.6 L765.6,1083.1 L774.2,1069.2 L783.1,1054.9 L792.2,1040.1 L801.7,1024.9 L811.6,1009.1 L821.8,992.8 L832.4,976 L843.5,958.5 L855,940.3 M780.9,1203.2 L787.1,1192.5 L793.5,1181.5 L800,1170.3 L806.7,1158.8 L813.7,1147 L820.8,1134.9 L828.1,1122.4 L835.6,1109.7 L843.4,1096.6 L851.4,1083.1 L859.7,1069.2 L868.3,1054.9 L877.1,1040.1 L886.3,1024.9 L895.8,1009.1 L905.6,992.8 L915.9,976 L926.6,958.5 L937.7,940.3 M845.6,1203.2 L851.6,1192.5 L857.8,1181.5 L864.2,1170.3 L870.7,1158.8 L877.4,1147 L884.3,1134.9 L891.4,1122.4 L898.8,1109.7 L906.3,1096.6 L914.1,1083.1 L922.1,1069.2 L930.5,1054.9 L939.1,1040.1 L948,1024.9 L957.2,1009.1 L966.8,992.8 L976.8,976 L987.2,958.5 L998,940.3" fill="none" stroke="#008000" stroke-opacity="0.35" stroke-width="0.7" stroke-dasharray="3,1"/>
<path d="M-1751.2,1203.2 L-567.6,98.5 M-1616.9,1203.2 L-433.3,98.5 M-1482.6,1203.2 L-299,98.5 M-1348.3,1203.2 L-164.7,98.5 M-1214,1203.2 L-30.4,98.5 M-1079.7,1203.2 L103.9,98.5 M-945.4,1203.2 L238.2,98.5 M-811.1,1203.2 L372.5,98.5 M-676.8,1203.2 L506.8,98.5 M-542.5,1203.2 L641.1,98.5 M-408.2,1203.2 L775.4,98.5 M-273.9,1203.2 L909.7,98.5 M-139.6,1203.2 L1044,98.5 M-5.3,1203.2 L1178.3,98.5 M129,1203.2 L1312.6,98.5 M263.3,1203.2 L1446.9,98.5 M397.6,1203.2 L1581.2,98.5 M531.9,1203.2 L1715.5,98.5 M666.2,1203.2 L1849.8,98.5 M800.5,1203.2 L1984.1,98.5 M934.8,1203.2 L2118.4,98.5 M1069.1,1203.2 L2252.7,98.5 M1203.4,1203.2 L2387,98.5 M1337.7,1203.2 L2521.3,98.5" stroke="#8e8e8e" stroke-width="1.1" fill="none"/>
<path d="M31.5,424.1 H1301.4 M31.5,614.6 H1301.4 M31.5,749.8 H1301.4 M31.5,854.6 H1301.4 M31.5,940.3 H1301.4 M31.5,1012.7 H1301.4 M31.5,1075.4 H1301.4 M31.5,1130.8 H1301.4 M31.5,1180.3 H1301.4" stroke="#9a9a9a" stroke-width="1.25" fill="none"/>
<line x1="397.6" y1="1203.2" x2="1581.2" y2="98.5" stroke="#6f72d9" stroke-width="2.2" stroke-dasharray="9,4.5"/>
<line x1="129" y1="1203.2" x2="1312.6" y2="98.5" stroke="#6f72d9" stroke-width="2.2" stroke-dasharray="9,4.5"/>
</g>
<text x="40.3" y="430.4" font-size="17.3" fill="#000" font-weight="bold" text-anchor="start" >200</text>
<text x="40.3" y="620.9" font-size="17.3" fill="#000" font-weight="bold" text-anchor="start" >300</text>
<text x="40.3" y="756.1" font-size="17.3" fill="#000" font-weight="bold" text-anchor="start" >400</text>
<text x="40.3" y="860.9" font-size="17.3" fill="#000" font-weight="bold" text-anchor="start" >500</text>
<text x="40.3" y="946.6" font-size="17.3" fill="#000" font-weight="bold" text-anchor="start" >600</text>
<text x="40.3" y="1019" font-size="17.3" fill="#000" font-weight="bold" text-anchor="start" >700</text>
<text x="40.3" y="1081.7" font-size="17.3" fill="#000" font-weight="bold" text-anchor="start" >800</text>
<text x="40.3" y="1137.1" font-size="17.3" fill="#000" font-weight="bold" text-anchor="start" >900</text>
<text x="40.3" y="1186.6" font-size="17.3" fill="#000" font-weight="bold" text-anchor="start" >1000</text>
<text x="129" y="1201" font-size="17" fill="#000" font-weight="bold" text-anchor="middle" >−20</text>
<text x="263.3" y="1201" font-size="17" fill="#000" font-weight="bold" text-anchor="middle" >−10</text>
<text x="397.6" y="1201" font-size="17" fill="#000" font-weight="bold" text-anchor="middle" >0</text>
<text x="531.9" y="1201" font-size="17" fill="#000" font-weight="bold" text-anchor="middle" >10</text>
<text x="666.2" y="1201" font-size="17" fill="#000" font-weight="bold" text-anchor="middle" >20</text>
<text x="800.5" y="1201" font-size="17" fill="#000" font-weight="bold" text-anchor="middle" >30</text>
<text x="934.8" y="1201" font-size="17" fill="#000" font-weight="bold" text-anchor="middle" >40</text>
<text x="1069.1" y="1201" font-size="17" fill="#000" font-weight="bold" text-anchor="middle" >50</text>
<text x="1203.4" y="1201" font-size="17" fill="#000" font-weight="bold" text-anchor="middle" >60</text>
<path d="M31.5,424.1 h5 M31.5,614.6 h5 M31.5,749.8 h5 M31.5,854.6 h5 M31.5,940.3 h5 M31.5,1012.7 h5 M31.5,1075.4 h5 M31.5,1130.8 h5 M31.5,1180.3 h5 M129,1203.2 v-5 M263.3,1203.2 v-5 M397.6,1203.2 v-5 M531.9,1203.2 v-5 M666.2,1203.2 v-5 M800.5,1203.2 v-5 M934.8,1203.2 v-5 M1069.1,1203.2 v-5 M1203.4,1203.2 v-5" stroke="#000" stroke-width="1.2"/>
<text x="1072.5" y="178.9" font-size="20.6" fill="#8c8c8c" font-weight="bold" text-anchor="start" >←MUMPL</text>
<text x="1071.5" y="431.3" font-size="20.6" fill="#8c8c8c" font-weight="bold" text-anchor="start" >←MUEL</text>
<text x="1073" y="1140.8" font-size="20.6" fill="#8c8c8c" font-weight="bold" text-anchor="start" >←MULFC</text>
<text x="1073" y="1150.3" font-size="20.6" fill="#8c8c8c" font-weight="bold" text-anchor="start" >←SBLCL</text>
<text x="1022" y="1151.7" font-size="13.7" fill="#8c8c8c" font-weight="bold" text-anchor="start" >←PBL</text>
<line x1="1123" y1="433" x2="1123" y2="1120" stroke="#c4c4c4" stroke-width="2" stroke-dasharray="2,3"/>
<line x1="1123" y1="1152" x2="1123" y2="1175" stroke="#a0a0a0" stroke-width="2.2" stroke-dasharray="2,3"/>
<line x1="1047.2" y1="1155.5" x2="1047.2" y2="1175" stroke="#a0a0a0" stroke-width="2.2" stroke-dasharray="2,3"/>
<text x="1003" y="950.3" font-size="16.2" fill="#8fb4ee" font-weight="bold" text-anchor="start" >←FRZ</text>
<text x="1003" y="997.3" font-size="16.2" fill="#8fb4ee" font-weight="bold" text-anchor="start" >←WB0</text>
<text x="479" y="431.1" font-size="18.6" fill="#f06464" text-anchor="start" >←1936J/kg</text>
<text x="742" y="830" font-size="18.7" fill="#f06464" text-anchor="start" >←623J/kg</text>
<text x="783" y="1008.7" font-size="18.7" fill="#f06464" text-anchor="start" >←118J/kg</text>
<text x="641.5" y="1195.7" font-size="16" fill="#8ab4f0" font-weight="bold" text-anchor="start" >66°F</text>
<text x="734.5" y="1195.7" font-size="16" fill="#ff4d4d" font-weight="bold" text-anchor="start" >73°F</text>
<text x="30" y="420" font-size="16" fill="#5cb85c">→</text>
<rect x="37.8" y="105.5" width="178.2" height="191.6" rx="3" fill="#ffffff" fill-opacity="0.8" stroke="#d8d8d8" stroke-width="1"/>
<line x1="43.2" y1="116.6" x2="72.4" y2="116.6" stroke="#86b3f5" stroke-width="2.6" stroke-linecap="square"/>
<text x="82" y="121.6" font-size="13.9" fill="#111" text-anchor="start" >WETBULB TEMP</text>
<line x1="42.8" y1="137.6" x2="72.4" y2="137.6" stroke="#a84848" stroke-width="5.3" stroke-dasharray="5.4,5.8"/>
<text x="82" y="142.6" font-size="13.9" fill="#111" text-anchor="start" >VIRTUAL TEMP</text>
<line x1="43.2" y1="158.6" x2="72.4" y2="158.6" stroke="#6495ed" stroke-width="6.4" stroke-linecap="square"/>
<text x="82" y="163.6" font-size="13.9" fill="#111" text-anchor="start" >DEWPOINT</text>
<line x1="43.2" y1="179.6" x2="72.4" y2="179.6" stroke="#ff0000" stroke-width="6.4" stroke-linecap="square"/>
<text x="82" y="184.6" font-size="13.9" fill="#111" text-anchor="start" >TEMPERATURE</text>
<line x1="42.8" y1="200.6" x2="72.4" y2="200.6" stroke="#ff0000" stroke-width="4" stroke-dasharray="14.8,6.4"/>
<text x="82" y="205.6" font-size="13.9" fill="#111" text-anchor="start" >MUECAPE PARCEL</text>
<line x1="42.8" y1="221.6" x2="72.4" y2="221.6" stroke="#bdbdbd" stroke-width="2.8" stroke-dasharray="10.4,4.5"/>
<text x="82" y="226.6" font-size="13.9" fill="#111" text-anchor="start" >SBCAPE PARCEL</text>
<line x1="42.8" y1="242.6" x2="72.4" y2="242.6" stroke="#bdbdbd" stroke-width="2.8" stroke-dasharray="10.4,4.5"/>
<text x="82" y="247.6" font-size="13.9" fill="#111" text-anchor="start" >MLCAPE PARCEL</text>
<line x1="42.8" y1="263.6" x2="72.4" y2="263.6" stroke="#bdbdbd" stroke-width="2.8" stroke-dasharray="10.4,4.5"/>
<text x="82" y="268.6" font-size="13.9" fill="#111" text-anchor="start" >MUCAPE PARCEL</text>
<line x1="42.8" y1="284.6" x2="72.4" y2="284.6" stroke="#9a30b0" stroke-width="1.3" stroke-dasharray="4.8,2.1"/>
<text x="82" y="289.6" font-size="13.9" fill="#111" text-anchor="start" >DWNDRFT PARCEL</text>
<g clip-path="url(#cSkew)">
<polyline points="573.2,1000.5 574.2,1004.3 575.6,1009.4 577.3,1015.4 579.1,1022.1 581,1029.2 582.9,1036.4 584.6,1043.5 586.2,1050 587.6,1056.1 588.8,1061.9 590,1067.6 591.2,1073.4 592.4,1079.4 593.5,1085.7 594.7,1092.6 595.9,1100 597.2,1108.7 598.7,1118.8 600.2,1129.6 601.7,1140.6 603.1,1151.3 604.4,1160.9 605.5,1169 606.3,1175" fill="none" stroke="#9a30b0" stroke-width="1.4" stroke-linejoin="round" stroke-dasharray="4.8,2.1"/>
<polyline points="280.6,96 282.3,100.2 284.6,105.9 287.3,112.6 290.4,120 293.6,127.9 296.8,135.7 300,143.2 303,150 305.9,156.2 308.8,162.3 311.8,168.3 314.8,174.1 317.7,179.9 320.6,185.7 323.5,191.5 326.2,197.4 328.8,203.2 331.1,208.9 333.4,214.6 335.6,220.3 337.9,226 340.3,232 342.8,238.1 345.6,244.5 348.6,251.2 351.7,258.1 355,265.1 358.4,272.3 361.9,279.7 365.6,287.2 369.4,294.9 373.3,302.6 377.4,310.6 381.8,319 386.4,327.6 391.1,336.2 395.8,344.9 400.4,353.3 405,361.4 409.3,369.1 413.3,376.1 417.1,382.6 420.7,388.8 424.2,394.7 427.8,400.7 431.7,407 435.9,413.7 440.5,421 445.6,429 451,437.5 456.7,446.3 462.6,455.4 468.8,464.7 475,474.1 481.3,483.5 487.6,492.9 494,502.3 500.7,511.8 507.6,521.3 514.5,531 521.4,540.7 528.3,550.4 534.9,560.1 541.3,569.7 547.5,579.4 553.6,589.2 559.6,599.1 565.5,609 571.2,618.8 576.8,628.3 582.1,637.5 587.3,646.4 592.2,654.9 597,663.1 601.6,671.1 606,678.8 610.3,686.3 614.3,693.6 618.2,700.8 621.9,707.8 625.3,714.5 628.4,720.8 631.2,726.8 633.9,732.8 636.5,738.7 639.2,744.7 641.9,751 644.9,757.7 648.1,764.8 651.4,772.1 654.8,779.5 658.3,787.2 661.8,795 665.2,802.9 668.5,811 671.7,819.1 674.8,827.5 678,836.4 681.1,845.5 684.2,854.6 687.1,863.6 689.9,872.4 692.5,880.6 694.8,888.2 696.8,895 698.5,901 700,906.5 701.4,911.7 702.6,916.8 703.8,922.2 705,927.9 706.3,934.2 707.6,941.2 708.9,948.6 710.2,956.4 711.4,964.4 712.6,972.4 713.8,980.4 714.9,988.2 715.9,995.6 716.9,1002.8 717.8,1009.8 718.7,1016.7 719.5,1023.5 720.3,1030.2 721,1036.9 721.8,1043.5 722.5,1050 723.2,1056.5 723.9,1062.9 724.5,1069.2 725.1,1075.5 725.7,1081.7 726.3,1087.9 726.9,1094 727.5,1100 728,1106.1 728.2,1112.2 728.3,1118.3 728.4,1124.4 728.8,1130.2 729.6,1135.9 730.9,1141.1 733,1146 736.1,1150.6 740.3,1154.9 745.2,1159 750.3,1162.9 755.5,1166.3 760.2,1169.4 764.2,1172 767,1174" fill="none" stroke="#8c8c8c" stroke-width="3" stroke-linejoin="round" stroke-dasharray="10.4,4.5"/>
<polyline points="293,96 294.3,99.9 296.1,105.2 298.2,111.4 300.5,118.4 302.9,125.7 305.4,133.1 307.8,140.3 310,147 312,153.4 314,159.7 316,166.1 317.9,172.4 319.9,178.8 321.9,185 324,191.3 326.2,197.4 328.4,203.4 330.6,209.1 332.9,214.8 335.2,220.5 337.6,226.2 340.1,232 342.8,238.1 345.6,244.5 348.6,251.2 351.7,258.1 355,265.1 358.4,272.3 361.9,279.7 365.6,287.2 369.4,294.9 373.3,302.6 377.4,310.6 381.8,319 386.4,327.6 391.1,336.2 395.8,344.9 400.4,353.3 405,361.4 409.3,369.1 413.3,376.1 417.1,382.6 420.7,388.8 424.2,394.7 427.8,400.7 431.7,407 435.9,413.7 440.5,421 445.6,429 451,437.5 456.7,446.3 462.6,455.4 468.8,464.7 475,474.1 481.3,483.5 487.6,492.9 494,502.3 500.7,511.8 507.6,521.3 514.5,531 521.4,540.7 528.3,550.4 534.9,560.1 541.3,569.7 547.4,579.3 553.4,588.8 559.3,598.3 565,607.8 570.7,617.4 576.2,627 581.8,636.6 587.3,646.4 592.9,656.3 598.5,666.4 604.1,676.5 609.6,686.7 615,696.9 620.1,707 625,717.1 629.5,727 633.6,736.9 637.5,746.9 641,756.9 644.4,766.8 647.5,776.5 650.6,786 653.5,795.1 656.4,803.7 659.2,811.7 661.7,819.2 664.2,826.2 666.5,833 668.7,839.7 671,846.5 673.3,853.7 675.6,861.3 678,869.4 680.4,877.9 682.9,886.5 685.3,895.4 687.7,904.3 690.1,913.1 692.5,921.9 694.8,930.4 697.1,938.8 699.4,947.2 701.8,955.6 704.1,963.9 706.3,972.1 708.4,980.2 710.3,988 712,995.6 713.5,1002.9 714.8,1010.1 715.9,1017 716.9,1023.8 717.9,1030.4 718.7,1037 719.6,1043.5 720.5,1050 721.4,1056.5 722.2,1062.9 723,1069.2 723.8,1075.5 724.5,1081.7 725.2,1087.9 725.9,1094 726.6,1100 727.1,1106.1 727.3,1112.2 727.3,1118.3 727.4,1124.4 727.7,1130.2 728.4,1135.9 729.7,1141.1 731.8,1146 735,1150.6 739.3,1154.9 744.3,1159 749.7,1162.9 755.1,1166.3 760,1169.4 764.1,1172 767,1174" fill="none" stroke="#ff0000" stroke-width="4" stroke-linejoin="round" stroke-dasharray="14.8,6.4"/>
<polyline points="612.5,885 614.1,895.9 655,936.8 657.5,947.6 670.5,957.3 690,981.5 695.9,990.2 691.4,994.8 636,998.5 650.5,1002.7 695.9,1041.4 698.8,1050 707,1070.7 720.5,1101.7 725.6,1122.3 727.7,1132.6 736,1143 767,1174" fill="none" stroke="#a84848" stroke-width="5.3" stroke-linejoin="round" stroke-dasharray="5.4,5.8"/>
<polyline points="456.4,431.1 456.4,503 437,537.7 442.5,572.3 463.3,613.8 495.1,698.2 518.7,741.2 524.2,773.2 545,813.4 540.8,849.4 531.1,853.5 536.6,860.4 532.5,867.4 542.2,892.3 572.6,898.4 584.5,935.7 609.5,948.2 575.5,955 572,990.9 580,994.8 634.5,1000.5 645.9,1016.4 641.4,1034.5 652.7,1043.6 676.6,1052.7 676.6,1068.6 681,1076 693,1102.7 696.5,1138.8 699.3,1147.1 699.3,1175.5" fill="none" stroke="#86b3f5" stroke-width="2.2" stroke-linejoin="round" />
<polyline points="428.7,96 391.3,143.4 377.5,150.4 248.7,268 233.5,287.4 142.1,359.4 114.4,377.4 93.7,406.5 54.9,428.6 31.5,466 -60,600 -60,846 221.5,849.8 -60,853.5 284.1,860.4 -80,869 31.5,884.5 500.5,899.3 463,936.8 547,948.2 382.3,955 278.9,990.9 411.8,997 634.5,1000.5 639.1,1014.1 616.4,1034.5 627.7,1041.4 675.5,1053.9 669.4,1066.8 679.6,1075.8 692.2,1102.7 694.9,1140 697.3,1146 683.3,1177.6" fill="none" stroke="#6495ed" stroke-width="6.2" stroke-linejoin="round" />
<polyline points="658.5,96 661.2,143.4 659.8,150.4 574,252.8 569.9,269.4 556,287.4 539.4,299.9 504.8,360.8 503.4,378.8 468.8,405.1 470.6,421 456.4,431.1 459.1,505.8 442.5,537.7 449.4,572.3 473,613.8 514.5,698.2 550.5,741.2 565.7,771.8 600.3,812 607.2,848 594.8,853.5 592,860.4 612.5,885 608.6,898 650.3,936.7 652.9,947.6 666.4,957.3 688.9,980.9 695.9,990.2 691.4,994.8 635.7,998.2 645.9,1011.8 681.1,1042.5 680.5,1052.7 687.9,1067.6 682.2,1075.8 694.1,1102.7 696.7,1138.8 733.9,1175.5" fill="none" stroke="#ff0000" stroke-width="5.4" stroke-linejoin="round" />
</g>
<line x1="196.1" y1="706.5" x2="196.1" y2="879.8" stroke="#2e8b2e" stroke-opacity="0.5" stroke-width="3.6"/>
<text x="196.1" y="697.7" font-size="16.5" fill="#8fbc8f" font-weight="bold" text-anchor="middle" >HGZ</text>
<line x1="234" y1="857.7" x2="234" y2="980.9" stroke="#cd5c5c" stroke-opacity="0.5" stroke-width="3.6"/>
<text x="230.5" y="852.6" font-size="16.5" fill="#cd5c5c" font-weight="bold" text-anchor="middle" fill-opacity="0.55">8.3</text>
<line x1="272" y1="1049.3" x2="272" y2="1180" stroke="#d3e6f0" stroke-width="3.6"/>
<text x="272" y="1047" font-size="16.5" fill="#d3e6f0" font-weight="bold" text-anchor="middle" >EIL</text>
<text x="92.2" y="346.4" font-size="16.2" fill="#000" font-weight="bold" text-anchor="start" fill-opacity="0.6" style="font-family:'DejaVu Sans Condensed','DejaVu Sans',sans-serif;font-stretch:condensed">13km</text>
<text x="92.2" y="634.6" font-size="16.2" fill="#000" font-weight="bold" text-anchor="start" fill-opacity="0.6" style="font-family:'DejaVu Sans Condensed','DejaVu Sans',sans-serif;font-stretch:condensed">9km</text>
<text x="92.2" y="767.7" font-size="16.2" fill="#000" font-weight="bold" text-anchor="start" fill-opacity="0.6" style="font-family:'DejaVu Sans Condensed','DejaVu Sans',sans-serif;font-stretch:condensed">7km</text>
<text x="92.2" y="891.7" font-size="16.2" fill="#000" font-weight="bold" text-anchor="start" fill-opacity="0.6" style="font-family:'DejaVu Sans Condensed','DejaVu Sans',sans-serif;font-stretch:condensed">5km</text>
<text x="92.2" y="1008.3" font-size="16.2" fill="#000" font-weight="bold" text-anchor="start" fill-opacity="0.6" style="font-family:'DejaVu Sans Condensed','DejaVu Sans',sans-serif;font-stretch:condensed">3km</text>
<text x="92.2" y="1121.7" font-size="16.2" fill="#000" font-weight="bold" text-anchor="start" fill-opacity="0.6" style="font-family:'DejaVu Sans Condensed','DejaVu Sans',sans-serif;font-stretch:condensed">1km</text>
<text x="91.5" y="1174.5" font-size="15.5" fill="#000" font-weight="bold" text-anchor="start" fill-opacity="0.6">-SFC (196m) -</text>
<text x="552.2" y="1007.8" font-size="18.5" fill="#4fa84f" text-anchor="start" >97% →</text>
<text x="607.5" y="1121.8" font-size="18.5" fill="#4fa84f" text-anchor="start" >99% →</text>
<rect x="31.5" y="98.5" width="1269.9" height="1104.7" fill="none" stroke="#000" stroke-width="1.6"/>
<rect x="1301.4" y="98.5" width="88.1" height="1104.7" fill="#fff"/>
<path d="M1301.4,424.1 H1389.5 M1301.4,614.6 H1389.5 M1301.4,749.8 H1389.5 M1301.4,854.6 H1389.5 M1301.4,940.3 H1389.5 M1301.4,1012.7 H1389.5 M1301.4,1075.4 H1389.5 M1301.4,1130.8 H1389.5 M1301.4,1180.3 H1389.5" stroke="#9a9a9a" stroke-width="1.5" fill="none"/>
<rect x="1324.7" y="253.5" width="8.7" height="254.5" fill="#c8daf6" stroke="#a8bcd8" stroke-width="0.8"/>
<rect x="1333.4" y="508" width="13" height="164" fill="#ffb0b0" stroke="#d89a9a" stroke-width="1"/>
<rect x="1333.4" y="672" width="14.5" height="121.6" fill="#ffb0b0" stroke="#d89a9a" stroke-width="1"/>
<rect x="1333.4" y="793.6" width="17.9" height="96.4" fill="#ffb0b0" stroke="#d89a9a" stroke-width="1"/>
<rect x="1333.4" y="890" width="1.2" height="80.4" fill="#ffb0b0" stroke="#d89a9a" stroke-width="1"/>
<rect x="1333.4" y="970.4" width="6.8" height="67.9" fill="#ffb0b0" stroke="#d89a9a" stroke-width="1"/>
<rect x="1333.4" y="1038.3" width="30.9" height="60.2" fill="#ffb0b0" stroke="#d89a9a" stroke-width="1"/>
<rect x="1333.4" y="1098.5" width="23.8" height="52.8" fill="#ffb0b0" stroke="#d89a9a" stroke-width="1"/>
<line x1="1333.4" y1="98.5" x2="1333.4" y2="1203.2" stroke="#000" stroke-width="1.6" stroke-dasharray="5,3"/>
<text x="1335.3" y="614" font-size="13" fill="#000" font-weight="bold" text-anchor="start" >2.1</text>
<text x="1335.3" y="749.2" font-size="13" fill="#000" font-weight="bold" text-anchor="start" >2.4</text>
<text x="1335.3" y="854" font-size="13" fill="#000" font-weight="bold" text-anchor="start" >3.0</text>
<text x="1335.3" y="939.7" font-size="13" fill="#000" font-weight="bold" text-anchor="start" >0.2</text>
<text x="1335.3" y="1012.1" font-size="13" fill="#000" font-weight="bold" text-anchor="start" >1.1</text>
<text x="1335.3" y="1074.8" font-size="13" fill="#000" font-weight="bold" text-anchor="start" >5.2</text>
<text x="1335.3" y="1130.2" font-size="13" fill="#000" font-weight="bold" text-anchor="start" >4.1</text>
<text x="1301.8" y="422.3" font-size="13" fill="#000" font-weight="bold" text-anchor="start" >-1.3</text>
<rect x="1301.4" y="98.5" width="88.1" height="1104.7" fill="none" stroke="#000" stroke-width="1.6"/>
<g clip-path="url(#cHodo)">
<rect x="1389.5" y="98.5" width="1023" height="1104.7" fill="#fff"/>
<circle cx="1747.9" cy="775.6" r="75.3" fill="none" stroke="#c4c4c4" stroke-width="1.3" stroke-dasharray="7,4"/>
<circle cx="1747.9" cy="775.6" r="150.7" fill="none" stroke="#9c9c9c" stroke-width="1.6"/>
<circle cx="1747.9" cy="775.6" r="226.1" fill="none" stroke="#c4c4c4" stroke-width="1.3" stroke-dasharray="7,4"/>
<circle cx="1747.9" cy="775.6" r="301.4" fill="none" stroke="#9c9c9c" stroke-width="1.6"/>
<circle cx="1747.9" cy="775.6" r="376.8" fill="none" stroke="#c4c4c4" stroke-width="1.3" stroke-dasharray="7,4"/>
<circle cx="1747.9" cy="775.6" r="452.1" fill="none" stroke="#9c9c9c" stroke-width="1.6"/>
<circle cx="1747.9" cy="775.6" r="527.5" fill="none" stroke="#c4c4c4" stroke-width="1.3" stroke-dasharray="7,4"/>
<circle cx="1747.9" cy="775.6" r="602.8" fill="none" stroke="#9c9c9c" stroke-width="1.6"/>
<circle cx="1747.9" cy="775.6" r="678.1" fill="none" stroke="#c4c4c4" stroke-width="1.3" stroke-dasharray="7,4"/>
<circle cx="1747.9" cy="775.6" r="753.5" fill="none" stroke="#9c9c9c" stroke-width="1.6"/>
<circle cx="1747.9" cy="775.6" r="828.9" fill="none" stroke="#c4c4c4" stroke-width="1.3" stroke-dasharray="7,4"/>
<circle cx="1747.9" cy="775.6" r="904.2" fill="none" stroke="#9c9c9c" stroke-width="1.6"/>
<circle cx="1747.9" cy="775.6" r="979.6" fill="none" stroke="#c4c4c4" stroke-width="1.3" stroke-dasharray="7,4"/>
<circle cx="1747.9" cy="775.6" r="1054.9" fill="none" stroke="#9c9c9c" stroke-width="1.6"/>
<circle cx="1747.9" cy="775.6" r="1130.2" fill="none" stroke="#c4c4c4" stroke-width="1.3" stroke-dasharray="7,4"/>
<line x1="1389.5" y1="775.6" x2="2412.5" y2="775.6" stroke="#909090" stroke-width="1.3" stroke-dasharray="7,3"/>
<line x1="1747.9" y1="98.5" x2="1747.9" y2="1203.2" stroke="#909090" stroke-width="1.3" stroke-dasharray="7,3"/>
<polygon points="1689.8,731.9 1650.1,611.6 1650.1,589.1 1656.7,558.7 1672.6,540.2 1697.7,528.3 1714.9,521.7 1762.5,519 1781,523 1804.8,536.2 1816.7,544.1 1827.3,564 1836.5,570.6 1847.1,573.2 1873,653.9" fill="#add8e6" fill-opacity="0.33" stroke="#add8e6" stroke-opacity="0.7" stroke-width="1.6"/>
<line x1="1747.9" y1="775.6" x2="1864" y2="662" stroke="#c8c8c8" stroke-width="3.6"/>
<polygon points="1873.5,653 1858.5,660.5 1866.5,668.5" fill="#c8c8c8"/>
<text x="1825.5" y="774" font-size="15.5" fill="#c8c8c8" font-weight="bold" text-anchor="start" >10</text>
<text x="1674.9" y="774" font-size="15.5" fill="#c8c8c8" font-weight="bold" text-anchor="start" >10</text>
<text x="1749.4" y="698.8" font-size="15.5" fill="#c8c8c8" font-weight="bold" text-anchor="start" >10</text>
<text x="1749.4" y="849.5" font-size="15.5" fill="#c8c8c8" font-weight="bold" text-anchor="start" >10</text>
<text x="1976.2" y="774" font-size="15.5" fill="#c8c8c8" font-weight="bold" text-anchor="start" >30</text>
<text x="1524.2" y="774" font-size="15.5" fill="#c8c8c8" font-weight="bold" text-anchor="start" >30</text>
<text x="1749.4" y="548" font-size="15.5" fill="#c8c8c8" font-weight="bold" text-anchor="start" >30</text>
<text x="1749.4" y="1000.2" font-size="15.5" fill="#c8c8c8" font-weight="bold" text-anchor="start" >30</text>
<text x="2127" y="774" font-size="15.5" fill="#c8c8c8" font-weight="bold" text-anchor="start" >50</text>
<text x="1749.4" y="397.4" font-size="15.5" fill="#c8c8c8" font-weight="bold" text-anchor="start" >50</text>
<text x="1749.4" y="1150.8" font-size="15.5" fill="#c8c8c8" font-weight="bold" text-anchor="start" >50</text>
<text x="2277.7" y="774" font-size="15.5" fill="#c8c8c8" font-weight="bold" text-anchor="start" >70</text>
<text x="1749.4" y="246.6" font-size="15.5" fill="#c8c8c8" font-weight="bold" text-anchor="start" >70</text>
<text x="1749.4" y="1301.6" font-size="15.5" fill="#c8c8c8" font-weight="bold" text-anchor="start" >70</text>
<polygon points="1766,665 1779,665 1772.5,677" fill="#b44a4a" fill-opacity="0.85"/>
<text x="1772.3" y="657" font-size="13.4" fill="#a52a2a" font-weight="bold" text-anchor="middle" >DTM</text>
<polyline points="2186.3,572 2294.8,569.3 2316,572 2323.9,544.2 2323.1,529.1 2326.6,445 2337.1,434.4" fill="none" stroke="#fff0a0" stroke-width="8" stroke-linejoin="round" stroke-linecap="round"/>
<polyline points="2045.3,538.1 2069.9,550.8 2089.8,537.6 2107,523 2116.2,528.3 2155.9,618.3 2186.3,572" fill="none" stroke="#ffd700" stroke-width="8" stroke-linejoin="round" stroke-linecap="round"/>
<polyline points="1862.5,580.7 1864.6,557.5 1863.5,545.8 1859.3,535.2 1886.8,518.3 1896.3,516.2 1912.2,488.7 1912,485 1907.4,474.4 1897.4,454.8 1899.5,452.7 1939.7,474.9 1947.6,482 1976.7,504.5 1995.9,508.5 2040.8,534.9 2045.3,538.1" fill="none" stroke="#ff8c00" stroke-width="8" stroke-linejoin="round" stroke-linecap="round"/>
<polyline points="1697.7,528.3 1714.9,521.7 1762.5,519 1781,523 1804.8,536.2 1816.7,544.1 1827.3,564 1836.5,570.6 1845.5,571.2 1857.1,565.9 1873,560.3 1874.3,563.5 1862.5,580.7" fill="none" stroke="#ff0000" stroke-width="8" stroke-linejoin="round" stroke-linecap="round"/>
<polyline points="1687.1,735.9 1650.1,611.6 1650.1,589.1 1656.7,558.7 1672.6,540.2 1697.7,528.3" fill="none" stroke="#800080" stroke-width="8" stroke-linejoin="round" stroke-linecap="round"/>
<circle cx="1649.5" cy="589.1" r="9.6" fill="#fff" stroke="#000" stroke-width="1.5"/>
<text x="1649.5" y="594.7" font-size="14" fill="#000" font-weight="bold" text-anchor="middle" letter-spacing="-1">.5</text>
<circle cx="1698.3" cy="528.3" r="9.6" fill="#fff" stroke="#000" stroke-width="1.5"/>
<text x="1698.3" y="533.9" font-size="15.5" fill="#000" font-weight="bold" text-anchor="middle" >1</text>
<circle cx="1827.4" cy="564.4" r="9.6" fill="#fff" stroke="#000" stroke-width="1.5"/>
<text x="1827.4" y="570" font-size="15.5" fill="#000" font-weight="bold" text-anchor="middle" >2</text>
<circle cx="1865.3" cy="568.9" r="9.6" fill="#fff" stroke="#000" stroke-width="1.5"/>
<text x="1865.3" y="574.5" font-size="15.5" fill="#000" font-weight="bold" text-anchor="middle" >3</text>
<circle cx="1896.1" cy="516.3" r="9.6" fill="#fff" stroke="#000" stroke-width="1.5"/>
<text x="1896.1" y="521.9" font-size="15.5" fill="#000" font-weight="bold" text-anchor="middle" >4</text>
<circle cx="1907.3" cy="474.5" r="9.6" fill="#fff" stroke="#000" stroke-width="1.5"/>
<text x="1907.3" y="480.1" font-size="15.5" fill="#000" font-weight="bold" text-anchor="middle" >5</text>
<circle cx="2045.3" cy="538.1" r="9.6" fill="#fff" stroke="#000" stroke-width="1.5"/>
<text x="2045.3" y="543.7" font-size="15.5" fill="#000" font-weight="bold" text-anchor="middle" >6</text>
<circle cx="2089.8" cy="537.6" r="9.6" fill="#fff" stroke="#000" stroke-width="1.5"/>
<text x="2089.8" y="543.2" font-size="15.5" fill="#000" font-weight="bold" text-anchor="middle" >7</text>
<circle cx="2155.9" cy="618.5" r="9.6" fill="#fff" stroke="#000" stroke-width="1.5"/>
<text x="2155.9" y="624.1" font-size="15.5" fill="#000" font-weight="bold" text-anchor="middle" >8</text>
<circle cx="2186.3" cy="572" r="9.6" fill="#fff" stroke="#000" stroke-width="1.5"/>
<text x="2186.3" y="577.6" font-size="15.5" fill="#000" font-weight="bold" text-anchor="middle" >9</text>
<circle cx="2323.1" cy="529.1" r="9.6" fill="#fff" stroke="#000" stroke-width="1.5"/>
<text x="2323.1" y="534.7" font-size="14" fill="#000" font-weight="bold" text-anchor="middle" letter-spacing="-1">11</text>
<text x="1799" y="453.7" font-size="18.8" fill="#111" font-weight="bold" text-anchor="start" >LM</text>
<text x="1877" y="659.2" font-size="18.8" fill="#111" font-weight="bold" text-anchor="start" >RM</text>
<text x="1939.2" y="546.3" font-size="18.8" fill="#111" font-weight="bold" text-anchor="start" >MW</text>
<text x="2203" y="503.2" font-size="15.5" fill="#ffc878" font-weight="bold" text-anchor="start" >DN</text>
<text x="1996.7" y="738" font-size="15.5" fill="#ffc878" font-weight="bold" text-anchor="start" >UP</text>
<text x="1411.2" y="124.8" font-size="20.7" fill="#666666" font-weight="bold" text-anchor="start" >SM: RIGHT MOVING | NE @ 23 kts</text>
<text x="1410.2" y="155.6" font-size="20.8" fill="#686868" text-anchor="start" >RM: NE @ 23 kts</text>
<text x="1410.2" y="194.9" font-size="20.8" fill="#686868" text-anchor="start" >LM: N @ 43 kts</text>
<text x="1410.2" y="233.7" font-size="20.8" fill="#686868" text-anchor="start" >MW: NE @ 39 kts</text>
<text x="1403.9" y="273" font-size="20.8" fill="#686868" text-anchor="start" >DTM: NNE @ 14 kts</text>
<text x="1410.2" y="311.7" font-size="20.8" fill="#686868" text-anchor="start" >US: E @ 35 kts</text>
<text x="1410.2" y="351" font-size="20.8" fill="#686868" text-anchor="start" >DS: ENE @ 71 kts</text>
</g>
<g clip-path="url(#cMap)">
<rect x="1389.6" y="943.3" width="259.8" height="259.5" fill="#fff"/>
<path d="M1389.6,961.5 L1433.7,961.5 M1433.7,943.9 L1433.7,978.1 M1419.8,978.1 L1468,978.1 M1467.4,943.9 L1468,990.2 M1464.3,990.2 L1502.2,990.2 M1495.7,943.9 L1495.7,990.2 M1495.7,978.1 L1543,978.1 M1529.6,943.9 L1529.6,975.4 M1553.7,943.9 L1553.7,975.4 M1575.4,943.9 L1573.5,963.3 L1572.6,974.4 M1605,943.9 L1605,959.6 M1576.3,950 L1605,950 M1419.8,978.1 L1419.8,1001.3 M1389.6,979.6 L1398.5,980 L1398.5,989.3 L1405,989.6 M1419.8,1001.3 L1464.3,1001.3 M1464.3,990.2 L1464.3,1016.1 M1464.3,1015.6 L1502.2,1015.6 M1502.2,990.2 L1502.2,1030 M1516.1,1001.3 L1546.7,1001.3 M1516.1,1001.3 L1516.1,1009.6 L1537.4,1010 L1537.4,1012.4 L1546.7,1012.4 L1546.7,1001.3 M1543,978.1 L1543,1023.5 M1526.3,993.9 L1550.4,993.9 L1550.4,1001.3 M1570.7,990.2 L1570.7,1006.9 L1594.8,1006.9 L1594.8,1001.3 L1597.6,1001.3 L1597.6,984.6 L1577.2,984.6 L1577.2,974.4 M1577.2,990.2 L1570.7,990.2 M1577.2,1006.9 L1577.2,1024.4 M1597.6,990.2 L1625.4,990.2 L1625.4,1001.3 L1618.9,1001.3 L1618.9,1024.4 M1577.2,1024.4 L1605,1024.4 M1635.6,965.2 L1635.6,990.2 L1649.4,990.2 M1610.6,957.8 L1635.6,965.2 L1649.4,965.2 M1598.5,965.2 L1597.6,984.6 M1611.5,990.2 L1611.5,995.7 L1625.4,995.7 M1543,946.7 L1543,975.4 M1500.4,947.6 L1517,965.2 L1518,972.6 L1539.3,975.4 M1433.7,1007.8 L1454.1,1004.1 M1430.9,1002.2 L1430.9,1007.8 L1433.7,1007.8 M1411.9,1023.5 L1412.4,1102.2 M1389.6,1045.7 L1446.3,1045.7 M1446.3,1030 L1446.3,1102.2 M1475.7,1040.2 L1475.7,1071.7 M1507.4,1043 L1507.4,1071.7 M1542.6,1039.3 L1542.6,1072.6 M1579.1,1050.4 L1579.1,1077.2 M1613.3,1044.8 L1613.3,1100.4 M1446.3,1069.3 L1475.7,1071.7 L1579.1,1073 M1389.6,1073.5 L1446.3,1073.5 M1479.4,1071.7 L1479.4,1099.4 M1513.3,1071.7 L1513.3,1099.4 M1549.1,1072.6 L1549.1,1100 M1584.6,1076.3 L1584.6,1109.6 M1579.1,1077.2 L1613.3,1073.5 M1613.3,1068 L1628.1,1067 L1649.4,1073.5 M1613.3,1083.7 L1628.1,1076.3 L1649.4,1074.8 M1389.6,1102.2 L1446.7,1102.2 M1446.7,1099.4 L1584.6,1100.4 M1570.7,1100.4 L1570.7,1111.5 L1584.6,1110.6 M1605.9,1100.4 L1626.3,1100.4 L1630,1120.7 L1649.4,1124.4 M1598.5,1109.6 L1598.5,1141.1 M1584.6,1109.6 L1613.3,1108.7 M1402.2,1102.2 L1401.3,1159.6 M1436.5,1102.2 L1436.5,1130.9 M1469.8,1099.4 L1469.8,1129.1 M1503.5,1099.4 L1503.5,1129.1 M1536.5,1100 L1536.5,1129.1 M1570.2,1100.4 L1569.3,1129.1 M1630.9,1120.7 L1630,1133.7 L1639.3,1141.1 M1389.6,1130.9 L1469.8,1130.9 M1469.8,1129.1 L1569.3,1129.1 M1569.3,1129.1 L1575.4,1141.1 L1639.3,1141.1 M1401.3,1159.6 L1389.6,1159.6 M1443,1130.9 L1443,1144.8 L1414.3,1159.6 L1430,1183.7 M1469.8,1130.9 L1481.9,1157.8 L1461.5,1168.9 M1498.5,1129.1 L1498.5,1151.3 L1476.3,1157.8 M1533.3,1129.1 L1533.3,1147.6 L1507.8,1153.1 M1533.3,1147.6 L1543,1160.6 L1577.2,1143.9 M1577.2,1143.9 L1593,1149.4 L1600.4,1163.3 L1639.3,1159.6 M1639.3,1141.1 L1641.1,1183.7 L1649.4,1187.4 M1414.3,1159.6 L1391.1,1170.7 M1430,1183.7 L1405.9,1200.4 M1461.5,1168.9 L1444.8,1185.6 L1457.8,1202.2 M1476.3,1157.8 L1500.4,1191.1 L1509.6,1202.2 M1507.8,1153.1 L1509.6,1167 L1518.9,1178.1 L1500.4,1191.1 M1543,1160.6 L1555.9,1176.3 L1535.6,1187.4 M1555.9,1176.3 L1572.6,1177.2 L1589.3,1202.2 M1600.4,1163.3 L1620.7,1187.4 L1622.6,1202.2 M1572.6,1177.2 L1602.2,1165.2 M1500.4,1191.1 L1535.6,1174.4 M1444.8,1185.6 L1422.6,1187.4 L1409.6,1202.2 M1620.7,1187.4 L1649.4,1191.1 M1461.5,1168.9 L1474.4,1161.5 L1498.5,1151.3" fill="none" stroke="#c4c4c4" stroke-width="0.8"/>
<polyline points="1389.6,1006.9 1391,1007.8 1393.1,1009.2 1395.2,1010.8 1396.7,1012.4 1397.1,1014.3 1396.8,1016.4 1396.7,1018.4 1397.6,1019.8 1399.9,1020.5 1403.2,1020.6 1406.7,1020.5 1409.6,1020.7 1411.8,1021.3 1413.5,1022.1 1415.2,1022.8 1417,1023.5 1419.3,1024.1 1421.7,1024.7 1424.1,1025.2 1426.3,1025.4 1428.2,1025 1430,1024.2 1431.8,1023.5 1433.7,1023.5 1435.9,1024.8 1438.3,1026.9 1440.7,1029 1443,1030 1444.7,1029.5 1446.2,1028.1 1447.9,1026.5 1450.4,1025.4 1454.2,1024.7 1459.1,1024.3 1463.7,1024.3 1467,1024.8 1468.4,1026.3 1468.5,1028.6 1468.3,1031 1468.9,1032.8 1470.7,1033.8 1473.1,1034.3 1475.4,1034.7 1477.2,1035.6 1478.1,1037 1478.4,1038.9 1478.6,1040.7 1479.1,1042 1479.8,1042.9 1480.7,1043.6 1481.9,1043.8 1483.7,1043.3 1486.6,1041.7 1490.2,1039 1493.8,1036.5 1496.7,1035.2 1498.3,1035.6 1499.3,1037.1 1500.1,1038.9 1501.3,1040.2 1503.3,1040.6 1505.6,1040.7 1507.9,1040.7 1509.6,1041.1 1510.4,1042.2 1510.5,1043.7 1510.6,1045.1 1511.5,1045.7 1513.4,1045.3 1515.9,1044.2 1518.5,1043 1520.7,1042 1522.5,1041.4 1524,1040.8 1525.3,1040.6 1526.3,1041.1 1527,1042.9 1527.3,1045.6 1527.6,1048.3 1528.1,1050.4 1529.1,1051.6 1530.3,1052.5 1531.6,1052.7 1532.8,1052.2 1534,1050.6 1535.2,1048.1 1536.3,1045.3 1537.4,1043 1538.4,1041.2 1539.3,1039.6 1540.1,1038.3 1541.1,1037.4 1542.2,1037 1543.5,1037 1544.7,1037.3 1545.7,1037.8 1546.4,1038.6 1546.8,1039.8 1547.4,1041.1 1548.5,1042 1550.5,1042.8 1553,1043.5 1555.6,1043.9 1557.8,1043.9 1559.3,1043.2 1560.5,1041.9 1561.5,1040.7 1562.4,1040.2 1563.1,1040.8 1563.5,1042 1564.1,1043.5 1565.2,1044.8 1567.1,1045.8 1569.5,1046.7 1572,1047.5 1574.4,1048.5 1576.7,1049.8 1579,1051.3 1581.1,1052.5 1582.8,1053.1 1583.8,1052.9 1584.2,1052 1584.7,1050.9 1585.6,1050 1587.2,1049.6 1589.2,1049.3 1591.3,1049 1593,1048.5 1594,1047.7 1594.6,1046.8 1595.3,1045.8 1596.7,1044.8 1599.1,1043.8 1602.1,1042.8 1605.2,1041.9 1607.8,1041.5 1609.6,1041.8 1610.9,1042.7 1612.1,1043.5 1613.3,1043.9 1614.6,1043.6 1615.8,1042.9 1617.1,1042 1618.9,1041.1 1621.4,1040.1 1624.6,1038.8 1627.6,1037.8 1630,1037.4 1631.4,1037.9 1632.1,1039.1 1632.7,1040.5 1633.7,1041.5 1635.3,1042.1 1637.1,1042.6 1639.1,1042.9 1641.1,1043 1643.3,1042.7 1645.7,1042.1 1647.9,1041.5 1649.4,1041.1" fill="none" stroke="#111" stroke-width="2.6" stroke-linejoin="round"/>
<circle cx="1518.9" cy="1112" r="7.2" fill="none" stroke="#000" stroke-width="1.9"/>
<path d="M1506.9,1112 H1531.9" stroke="#000" stroke-width="3"/>
<path d="M1518.9,1099.8 V1124.4" stroke="#000" stroke-width="1.6"/>
</g>
<rect x="1389.6" y="943.3" width="259.8" height="259.5" fill="none" stroke="#000" stroke-width="1.6"/>
<rect x="2192.6" y="1021.6" width="219.6" height="181.6" fill="#fff" stroke="#000" stroke-width="1.6"/>
<text x="2209.6" y="1049" font-size="17.2" fill="#111" font-weight="bold">0-3<tspan font-size="10.7" letter-spacing="1">km</tspan></text>
<text x="2270" y="1049" font-size="17.2" fill="#111" font-weight="bold" text-anchor="start" >SRH,</text>
<text x="2338.3" y="1049" font-size="17.2" fill="#111" font-weight="bold" text-anchor="start" >BWD</text>
<text x="2210.2" y="1079.5" font-size="17.6" fill="#4169e1" font-weight="bold" text-anchor="start" >307 m²/s²</text>
<text x="2335.4" y="1079.5" font-size="17.6" fill="#4169e1" font-weight="bold" text-anchor="start" >32 kt</text>
<text x="2209.6" y="1108.6" font-size="17.2" fill="#111" font-weight="bold">0-6<tspan font-size="10.7" letter-spacing="1">km</tspan></text>
<text x="2270" y="1108.6" font-size="17.2" fill="#111" font-weight="bold" text-anchor="start" >SRH,</text>
<text x="2338.3" y="1108.6" font-size="17.2" fill="#111" font-weight="bold" text-anchor="start" >BWD</text>
<text x="2210.2" y="1136.4" font-size="17.6" fill="#4169e1" font-weight="bold" text-anchor="start" >461 m²/s²</text>
<text x="2335.4" y="1136.4" font-size="17.6" fill="#4169e1" font-weight="bold" text-anchor="start" >54 kt</text>
<text x="2203.3" y="1167.4" font-size="16.6" fill="#111" font-weight="bold" text-anchor="start" >SCP</text>
<text x="2258.2" y="1167.4" font-size="16.6" fill="#111" font-weight="bold" text-anchor="start" >STP</text>
<text x="2316.4" y="1165.5" font-size="16.6" fill="#111" font-weight="bold" text-anchor="start" >EHI</text>
<text x="2371.4" y="1165.5" font-size="16.6" fill="#111" font-weight="bold" text-anchor="start" >EHI</text>
<text x="2332.5" y="1177" font-size="9.2" fill="#111" font-weight="bold" text-anchor="middle" letter-spacing="0.3">0–1km</text>
<text x="2387.4" y="1177" font-size="9.2" fill="#111" font-weight="bold" text-anchor="middle" letter-spacing="0.3">0–3km</text>
<text x="2222.5" y="1192.6" font-size="16.6" fill="#b22222" font-weight="bold" text-anchor="middle" >11</text>
<text x="2277" y="1192.6" font-size="16.6" fill="#b22222" font-weight="bold" text-anchor="middle" >3</text>
<text x="2332.2" y="1192.6" font-size="16.6" fill="#ff4500" font-weight="bold" text-anchor="middle" >2</text>
<text x="2387.1" y="1192.6" font-size="16.6" fill="#ff4500" font-weight="bold" text-anchor="middle" >3</text>
<rect x="1389.5" y="98.5" width="1023" height="1104.7" fill="none" stroke="#000" stroke-width="1.6"/>
<rect x="31.5" y="1203.4" width="892.8" height="233.8" fill="#fff" stroke="#000" stroke-width="1.6"/>
<text x="132.3" y="1243" font-size="20.5" fill="#000" font-weight="bold" text-anchor="start" >SR-ECAPE</text>
<text x="297.8" y="1243" font-size="20.5" fill="#000" font-weight="bold" text-anchor="start" >CAPE</text>
<text x="424.3" y="1243" font-size="20.5" fill="#000" font-weight="bold" text-anchor="start" >6CAPE</text>
<text x="564.5" y="1243" font-size="20.5" fill="#000" font-weight="bold" text-anchor="start" >3CAPE</text>
<text x="712.4" y="1243" font-size="20.5" fill="#000" font-weight="bold" text-anchor="start" >CIN</text>
<text x="839.8" y="1243" font-size="20.5" fill="#000" font-weight="bold" text-anchor="start" >LCL</text>
<text x="45.3" y="1281.5" font-size="20.5" fill="#000" font-weight="bold" text-anchor="start" >SB:</text>
<text x="132.7" y="1281.5" font-size="20.5" fill="#b22222" font-weight="bold" text-anchor="start" >1665 J/kg</text>
<text x="275.5" y="1281.5" font-size="20.5" fill="#ff4500" font-weight="bold" text-anchor="start" >1936 J/kg</text>
<text x="417.8" y="1281.5" font-size="20.5" fill="#ff4500" font-weight="bold" text-anchor="start" >623 J/kg</text>
<text x="559.8" y="1281.5" font-size="20.5" fill="#ff4500" font-weight="bold" text-anchor="start" >118 J/kg</text>
<text x="693.4" y="1281.5" font-size="20.5" fill="#ff4500" font-weight="bold" text-anchor="start" >-6 J/kg</text>
<text x="825" y="1281.5" font-size="20.5" fill="#ff4500" font-weight="bold" text-anchor="start" >479 m</text>
<text x="45.3" y="1320.9" font-size="20.5" fill="#000" font-weight="bold" text-anchor="start" >MU:</text>
<text x="132.7" y="1320.9" font-size="20.5" fill="#b22222" font-weight="bold" text-anchor="start" >1665 J/kg</text>
<text x="275.5" y="1320.9" font-size="20.5" fill="#ff4500" font-weight="bold" text-anchor="start" >1936 J/kg</text>
<text x="417.8" y="1320.9" font-size="20.5" fill="#ff4500" font-weight="bold" text-anchor="start" >623 J/kg</text>
<text x="559.8" y="1320.9" font-size="20.5" fill="#ff4500" font-weight="bold" text-anchor="start" >118 J/kg</text>
<text x="693.4" y="1320.9" font-size="20.5" fill="#ff4500" font-weight="bold" text-anchor="start" >-6 J/kg</text>
<text x="825" y="1320.9" font-size="20.5" fill="#ff4500" font-weight="bold" text-anchor="start" >479 m</text>
<text x="45.3" y="1359.6" font-size="20.5" fill="#000" font-weight="bold" text-anchor="start" >ML:</text>
<text x="132.7" y="1359.6" font-size="20.5" fill="#b22222" font-weight="bold" text-anchor="start" >1583 J/kg</text>
<text x="275.5" y="1359.6" font-size="20.5" fill="#ff4500" font-weight="bold" text-anchor="start" >1929 J/kg</text>
<text x="417.8" y="1359.6" font-size="20.5" fill="#ff4500" font-weight="bold" text-anchor="start" >621 J/kg</text>
<text x="559.8" y="1359.6" font-size="20.5" fill="#ff4500" font-weight="bold" text-anchor="start" >117 J/kg</text>
<text x="693.4" y="1359.6" font-size="20.5" fill="#ff4500" font-weight="bold" text-anchor="start" >-2 J/kg</text>
<text x="825" y="1359.6" font-size="20.5" fill="#ff4500" font-weight="bold" text-anchor="start" >544 m</text>
<text x="45.3" y="1393.6" font-size="20.5" fill="#000" font-weight="bold" text-anchor="start" >DCAPE:</text>
<text x="143.5" y="1393.6" font-size="20.5" fill="#8eb3ef" font-weight="bold" text-anchor="start" >820 J/kg</text>
<text x="45.3" y="1419.4" font-size="20.5" fill="#000" font-weight="bold" text-anchor="start" >DCIN:</text>
<text x="143.5" y="1419.4" font-size="20.5" fill="#8eb3ef" font-weight="bold" text-anchor="start" >0 J/kg</text>
<text x="287.6" y="1412.6" font-size="20.5" fill="#000" font-weight="bold" text-anchor="start" >MUNCAPE:</text>
<text x="414" y="1412.6" font-size="20.5" fill="#bc6e6e" font-weight="bold" text-anchor="start" >0.2</text>
<text x="496.1" y="1412.6" font-size="20.5" font-weight="bold" fill="#000">Γ<tspan font-size="12.5">0–3</tspan>:</text>
<text x="561.7" y="1412.6" font-size="20.5" fill="#8b4513" font-weight="bold" text-anchor="start" >7 Δ°C/km</text>
<text x="693.8" y="1412.6" font-size="20.5" font-weight="bold" fill="#000">Γ<tspan font-size="12.5">3–6</tspan>:</text>
<text x="766" y="1412.6" font-size="20.5" fill="#8b4513" font-weight="bold" text-anchor="start" >6 Δ°C/km</text>
<rect x="924.4" y="1203.75" width="329.6" height="298.55" fill="#fff" stroke="#000" stroke-width="1.6"/>
<text x="1041" y="1243.3" font-size="20.5" fill="#000" font-weight="bold" text-anchor="start" >RH(%)</text>
<text x="1164.5" y="1243.3" font-size="20.5" fill="#000" font-weight="bold" text-anchor="start" >ω</text>
<text x="946.2" y="1281.6" font-size="20.5" fill="#000" font-weight="bold">0-.5<tspan font-size="12.7" letter-spacing="1">km</tspan>:</text>
<line x1="949" y1="1260.4" x2="980" y2="1260.4" stroke="#000" stroke-width="1.6"/>
<text x="1044.7" y="1281.6" font-size="20.5" fill="#228b22" font-weight="bold" text-anchor="start" >85 %</text>
<text x="1122.8" y="1281.6" font-size="20.5" fill="#228b22" font-weight="bold" text-anchor="start" >14.2 g/kg</text>
<text x="946.2" y="1320.8" font-size="20.5" fill="#000" font-weight="bold">0-1<tspan font-size="12.7" letter-spacing="1">km</tspan>:</text>
<line x1="949" y1="1299.6" x2="980" y2="1299.6" stroke="#000" stroke-width="1.6"/>
<text x="1044.7" y="1320.8" font-size="20.5" fill="#2f8f2f" font-weight="bold" text-anchor="start" >92 %</text>
<text x="1122.8" y="1320.8" font-size="20.5" fill="#2f8f2f" font-weight="bold" text-anchor="start" >13.9 g/kg</text>
<text x="946.2" y="1360" font-size="20.5" fill="#000" font-weight="bold">1-3<tspan font-size="12.7" letter-spacing="1">km</tspan>:</text>
<line x1="949" y1="1338.8" x2="980" y2="1338.8" stroke="#000" stroke-width="1.6"/>
<text x="1044.7" y="1360" font-size="20.5" fill="#48a048" font-weight="bold" text-anchor="start" >93 %</text>
<text x="1122.8" y="1360" font-size="20.5" fill="#48a048" font-weight="bold" text-anchor="start" >9.6 g/kg</text>
<text x="946.2" y="1398.9" font-size="20.5" fill="#000" font-weight="bold">3-6<tspan font-size="12.7" letter-spacing="1">km</tspan>:</text>
<line x1="949" y1="1377.7" x2="980" y2="1377.7" stroke="#000" stroke-width="1.6"/>
<text x="1044.7" y="1398.9" font-size="20.5" fill="#62b062" font-weight="bold" text-anchor="start" >25 %</text>
<text x="1122.8" y="1398.9" font-size="20.5" fill="#62b062" font-weight="bold" text-anchor="start" >1.4 g/kg</text>
<text x="946.2" y="1438.1" font-size="20.5" fill="#000" font-weight="bold">6-9<tspan font-size="12.7" letter-spacing="1">km</tspan>:</text>
<line x1="949" y1="1416.9" x2="980" y2="1416.9" stroke="#000" stroke-width="1.6"/>
<text x="1044.7" y="1438.1" font-size="20.5" fill="#7cbf7c" font-weight="bold" text-anchor="start" >0 %</text>
<text x="1122.8" y="1438.1" font-size="20.5" fill="#7cbf7c" font-weight="bold" text-anchor="start" >0.0 g/kg</text>
<text x="946.8" y="1466.3" font-size="16.4" fill="#000" font-weight="bold" text-anchor="start" >PWAT:</text>
<text x="1018.7" y="1466.3" font-size="16.4" fill="#006400" font-weight="bold" text-anchor="start" >1.438 in</text>
<text x="1114.9" y="1466.3" font-size="16.4" fill="#000" font-weight="bold" text-anchor="start" >WB:</text>
<text x="1174.9" y="1466.3" font-size="16.4" fill="#006400" font-weight="bold" text-anchor="start" >20 °C</text>
<text x="946.8" y="1492.5" font-size="16.4" fill="#000" font-weight="bold" text-anchor="start" >FRZ:</text>
<text x="1024.9" y="1492.5" font-size="16.4" fill="#6495ed" font-weight="bold" text-anchor="start" >4000m</text>
<text x="1109.3" y="1492.5" font-size="16.4" fill="#000" font-weight="bold" text-anchor="start" >WB0:</text>
<text x="1170.3" y="1492.5" font-size="16.4" fill="#6495ed" font-weight="bold" text-anchor="start" >3200m</text>
<rect x="1254.5" y="1203.9" width="582.7" height="298.1" fill="#fff" stroke="#000" stroke-width="1.6"/>
<text x="1375.5" y="1242.6" font-size="20.5" fill="#333" font-weight="bold" text-anchor="start" >BWD</text>
<text x="1480.6" y="1242.6" font-size="20.5" fill="#333" font-weight="bold" text-anchor="start" >SRH</text>
<text x="1580.5" y="1242.6" font-size="20.5" fill="#333" font-weight="bold" text-anchor="start" >SRW</text>
<text x="1656.1" y="1242.6" font-size="20.5" fill="#333" font-weight="bold" text-anchor="start" >SWζ%</text>
<text x="1756.6" y="1242.6" font-size="20.5" fill="#333" font-weight="bold" text-anchor="start" >SWζ</text>
<text x="1274.3" y="1281.8" font-size="20.5" fill="#222" font-weight="bold">0-.5<tspan font-size="12.7" letter-spacing="1">km</tspan>:</text>
<text x="1369.8" y="1281.8" font-size="20.5" fill="#6495ed" font-weight="bold" text-anchor="start" >19 kt</text>
<text x="1450.8" y="1281.8" font-size="20.5" fill="#6495ed" font-weight="bold" text-anchor="start" >141 m²/s²</text>
<text x="1580.5" y="1281.8" font-size="20.5" fill="#6495ed" font-weight="bold" text-anchor="start" >28 kt</text>
<text x="1672.3" y="1281.8" font-size="20.5" fill="#6495ed" font-weight="bold" text-anchor="start" >96</text>
<text x="1749.1" y="1281.8" font-size="20.5" fill="#6495ed" font-weight="bold" text-anchor="start" >0.02</text>
<text x="1274.3" y="1321" font-size="20.5" fill="#222" font-weight="bold">0-1<tspan font-size="12.7" letter-spacing="1">km</tspan>:</text>
<text x="1369.8" y="1321" font-size="20.5" fill="#7b68ee" font-weight="bold" text-anchor="start" >27 kt</text>
<text x="1450.8" y="1321" font-size="20.5" fill="#7b68ee" font-weight="bold" text-anchor="start" >225 m²/s²</text>
<text x="1580.5" y="1321" font-size="20.5" fill="#7b68ee" font-weight="bold" text-anchor="start" >27 kt</text>
<text x="1672.3" y="1321" font-size="20.5" fill="#7b68ee" font-weight="bold" text-anchor="start" >96</text>
<text x="1749.1" y="1321" font-size="20.5" fill="#7b68ee" font-weight="bold" text-anchor="start" >0.016</text>
<text x="1274.3" y="1359.9" font-size="20.5" fill="#222" font-weight="bold">1-3<tspan font-size="12.7" letter-spacing="1">km</tspan>:</text>
<text x="1369.8" y="1359.9" font-size="20.5" fill="#4169e1" font-weight="bold" text-anchor="start" >22 kt</text>
<text x="1450.8" y="1359.9" font-size="20.5" fill="#4169e1" font-weight="bold" text-anchor="start" >81 m²/s²</text>
<text x="1580.5" y="1359.9" font-size="20.5" fill="#4169e1" font-weight="bold" text-anchor="start" >20 kt</text>
<text x="1672.3" y="1359.9" font-size="20.5" fill="#4169e1" font-weight="bold" text-anchor="start" >58</text>
<text x="1749.1" y="1359.9" font-size="20.5" fill="#4169e1" font-weight="bold" text-anchor="start" >0.005</text>
<text x="1274.3" y="1398.8" font-size="20.5" fill="#222" font-weight="bold">3-6<tspan font-size="12.7" letter-spacing="1">km</tspan>:</text>
<text x="1369.8" y="1398.8" font-size="20.5" fill="#0000cd" font-weight="bold" text-anchor="start" >24 kt</text>
<text x="1450.8" y="1398.8" font-size="20.5" fill="#0000cd" font-weight="bold" text-anchor="start" >154 m²/s²</text>
<text x="1580.5" y="1398.8" font-size="20.5" fill="#0000cd" font-weight="bold" text-anchor="start" >19 kt</text>
<text x="1672.3" y="1398.8" font-size="20.5" fill="#0000cd" font-weight="bold" text-anchor="start" >57</text>
<text x="1749.1" y="1398.8" font-size="20.5" fill="#0000cd" font-weight="bold" text-anchor="start" >0.005</text>
<text x="1274.3" y="1437.5" font-size="20.5" fill="#222" font-weight="bold">6-9<tspan font-size="12.7" letter-spacing="1">km</tspan>:</text>
<text x="1369.8" y="1437.5" font-size="20.5" fill="#00008b" font-weight="bold" text-anchor="start" >19 kt</text>
<text x="1450.8" y="1437.5" font-size="20.5" fill="#00008b" font-weight="bold" text-anchor="start" >94 m²/s²</text>
<text x="1580.5" y="1437.5" font-size="20.5" fill="#00008b" font-weight="bold" text-anchor="start" >35 kt</text>
<text x="1672.3" y="1437.5" font-size="20.5" fill="#00008b" font-weight="bold" text-anchor="start" >55</text>
<text x="1749.1" y="1437.5" font-size="20.5" fill="#00008b" font-weight="bold" text-anchor="start" >0.004</text>
<text x="1274.3" y="1476.4" font-size="20.5" fill="#222" font-weight="bold" text-anchor="start" >EIL:</text>
<text x="1369.8" y="1476.4" font-size="20.5" fill="#000080" font-weight="bold" text-anchor="start" >29 kt</text>
<text x="1450.8" y="1476.4" font-size="20.5" fill="#000080" font-weight="bold" text-anchor="start" >297 m²/s²</text>
<text x="1580.5" y="1476.4" font-size="20.5" fill="#000080" font-weight="bold" text-anchor="start" >19 kt</text>
<text x="1672.3" y="1476.4" font-size="20.5" fill="#000080" font-weight="bold" text-anchor="start" >72</text>
<text x="1749.1" y="1476.4" font-size="20.5" fill="#000080" font-weight="bold" text-anchor="start" >0.01</text>
<line x1="1244.3" y1="153.5" x2="1244.3" y2="1192" stroke="#333" stroke-width="1.2"/>
<path d="M1243.6,186.2 L1202,203.4 M1217.6,197 L1205.5,182.5 M1243.6,252.5 L1202,269.7 M1217.6,263.3 L1205.5,248.8 M1222.8,261.1 L1210.7,246.7 M1228,259 L1222,251.7 M1243.6,287.8 L1202,305 M1217.6,298.6 L1205.5,284.1 M1222.8,296.4 L1210.7,282 M1228,294.3 L1215.9,279.8 M1233.2,292.1 L1227.2,284.9 M1243.6,300.7 L1202,317.9 M1217.6,311.5 L1205.5,297 M1222.8,309.3 L1210.7,294.9 M1228,307.2 L1215.9,292.7 M1233.2,305 L1227.2,297.8 M1243.6,360.2 L1202,377.4 M1217.6,371 L1205.5,356.5 M1222.8,368.8 L1210.7,354.4 M1228,366.7 L1215.9,352.2 M1233.2,364.5 L1221.1,350 M1238.4,362.4 L1232.4,355.1 M1243.6,379.1 L1202,396.3 M1217.6,389.9 L1205.5,375.4 M1222.8,387.7 L1210.7,373.3 M1228,385.6 L1215.9,371.1 M1233.2,383.4 L1221.1,368.9 M1238.4,381.3 L1232.4,374 M1243.6,423.7 L1202,440.9 M1217.6,434.5 L1205.5,420 M1222.8,432.3 L1210.7,417.9 M1228,430.2 L1215.9,415.7 M1233.2,428 L1221.1,413.5 M1238.4,425.9 L1232.4,418.6 M1243.6,430.7 L1202,447.9 M1217.6,441.5 L1205.5,427 M1222.8,439.3 L1210.7,424.9 M1228,437.2 L1215.9,422.7 M1233.2,435 L1221.1,420.5 M1243.6,504.9 L1201.3,520.3 M1217.2,514.5 L1205.7,499.5 M1222.5,512.6 L1211,497.6 M1227.7,510.7 L1216.3,495.7 M1243.6,528.1 L1201.3,543.5 M1217.2,537.7 L1205.7,522.7 M1222.5,535.8 L1211,520.8 M1227.7,533.9 L1216.3,518.9 M1243.6,537.7 L1201.3,553.1 M1217.2,547.3 L1205.7,532.3 M1222.5,545.4 L1211,530.4 M1227.7,543.5 L1216.3,528.5 M1243.6,574.8 L1201.3,590.2 M1217.2,584.4 L1205.7,569.4 M1222.5,582.5 L1216.7,575 M1243.6,614 L1201.3,629.4 M1217.2,623.6 L1205.7,608.6 M1222.5,621.7 L1216.7,614.2 M1243.6,635.3 L1201.3,650.7 M1217.2,644.9 L1205.7,629.9 M1222.5,643 L1216.7,635.5 M1243.6,697.8 L1201.3,713.2 M1217.2,707.4 L1205.7,692.4 M1243.6,749.2 L1206.2,774.2 M1220.2,764.8 L1212.9,758.9 M1243.6,773.4 L1206.2,798.4 M1220.2,789 L1212.9,783.1 M1243.6,815.1 L1206.3,840.3 M1243.6,847.2 L1212.5,879.8 M1243.6,884.1 L1222.9,924 M1222.9,924 L1204.3,920.8 M1225.5,919.1 L1206.9,915.8 M1228.1,914.1 L1209.5,910.8 M1230.6,909.1 L1212.1,905.8 M1233.2,904.1 L1224,902.4 M1243.6,908.7 L1221.3,947.8 M1221.3,947.8 L1202.9,943.8 M1224.1,942.9 L1205.7,938.9 M1226.9,938 L1208.5,934 M1229.7,933.1 L1211.3,929.1 M1232.5,928.3 L1223.3,926.2 M1243.6,948 L1221.5,987.2 M1221.5,987.2 L1203.1,983.3 M1224.3,982.3 L1205.8,978.4 M1227,977.4 L1208.6,973.5 M1229.8,972.5 L1211.4,968.6 M1232.6,967.6 L1223.3,965.6 M1243.6,980.3 L1225.1,1021.3 M1225.1,1021.3 L1206.4,1019.1 M1227.4,1016.2 L1208.7,1013.9 M1229.8,1011.1 L1211,1008.8 M1232.1,1005.9 L1222.7,1004.8 M1243.6,1015.4 L1221.6,1054.6 M1221.6,1054.6 L1203.1,1050.7 M1224.3,1049.7 L1205.9,1045.8 M1227.1,1044.8 L1208.6,1040.9 M1243.6,1050.6 L1225.1,1091.6 M1225.1,1091.6 L1206.4,1089.4 M1227.4,1086.5 L1208.7,1084.2 M1229.8,1081.4 L1211,1079.1 M1243.6,1076 L1229.4,1118.7 M1229.4,1118.7 L1210.6,1118.4 M1231.2,1113.4 L1212.3,1113 M1233,1108 L1214.1,1107.7 M1243.6,1118.5 L1251.5,1162.8 M1251.5,1162.8 L1234.8,1171.5 M1250.6,1157.3 L1233.8,1166 M1249.6,1151.7 L1232.8,1160.4 M1248.6,1146.2 L1240.2,1150.5 M1243.6,1143.1 L1261.2,1184.5 M1261.2,1184.5 L1246.8,1196.7 M1259,1179.3 L1244.6,1191.6 M1256.8,1174.2 L1242.4,1186.4 M1254.6,1169 L1247.4,1175.1 M1243.6,1174.5 L1280.4,1200.4 M1280.4,1200.4 L1274.7,1218.3" stroke="#000" stroke-width="2.1" fill="none" stroke-linecap="square"/>
<polygon points="1202,203.4 1200.3,184.7 1212.4,199.1" fill="#000" stroke="#000" stroke-width="1.5" stroke-linejoin="miter"/>
<polygon points="1202,269.7 1200.3,251 1212.4,265.4" fill="#000" stroke="#000" stroke-width="1.5" stroke-linejoin="miter"/>
<polygon points="1202,305 1200.3,286.3 1212.4,300.7" fill="#000" stroke="#000" stroke-width="1.5" stroke-linejoin="miter"/>
<polygon points="1202,317.9 1200.3,299.2 1212.4,313.6" fill="#000" stroke="#000" stroke-width="1.5" stroke-linejoin="miter"/>
<polygon points="1202,377.4 1200.3,358.7 1212.4,373.1" fill="#000" stroke="#000" stroke-width="1.5" stroke-linejoin="miter"/>
<polygon points="1202,396.3 1200.3,377.6 1212.4,392" fill="#000" stroke="#000" stroke-width="1.5" stroke-linejoin="miter"/>
<polygon points="1202,440.9 1200.3,422.2 1212.4,436.6" fill="#000" stroke="#000" stroke-width="1.5" stroke-linejoin="miter"/>
<polygon points="1202,447.9 1200.3,429.2 1212.4,443.6" fill="#000" stroke="#000" stroke-width="1.5" stroke-linejoin="miter"/>
<polygon points="1201.3,520.3 1200.4,501.4 1211.9,516.4" fill="#000" stroke="#000" stroke-width="1.5" stroke-linejoin="miter"/>
<polygon points="1201.3,543.5 1200.4,524.6 1211.9,539.6" fill="#000" stroke="#000" stroke-width="1.5" stroke-linejoin="miter"/>
<polygon points="1201.3,553.1 1200.4,534.2 1211.9,549.2" fill="#000" stroke="#000" stroke-width="1.5" stroke-linejoin="miter"/>
<polygon points="1201.3,590.2 1200.4,571.3 1211.9,586.3" fill="#000" stroke="#000" stroke-width="1.5" stroke-linejoin="miter"/>
<polygon points="1201.3,629.4 1200.4,610.5 1211.9,625.5" fill="#000" stroke="#000" stroke-width="1.5" stroke-linejoin="miter"/>
<polygon points="1201.3,650.7 1200.4,631.8 1211.9,646.8" fill="#000" stroke="#000" stroke-width="1.5" stroke-linejoin="miter"/>
<polygon points="1201.3,713.2 1200.4,694.3 1211.9,709.3" fill="#000" stroke="#000" stroke-width="1.5" stroke-linejoin="miter"/>
<polygon points="1206.2,774.2 1200.9,756.1 1215.5,768" fill="#000" stroke="#000" stroke-width="1.5" stroke-linejoin="miter"/>
<polygon points="1206.2,798.4 1200.9,780.3 1215.5,792.2" fill="#000" stroke="#000" stroke-width="1.5" stroke-linejoin="miter"/>
<polygon points="1206.3,840.3 1200.9,822.2 1215.6,834" fill="#000" stroke="#000" stroke-width="1.5" stroke-linejoin="miter"/>
<polygon points="1212.5,879.8 1203.4,863.3 1220.3,871.6" fill="#000" stroke="#000" stroke-width="1.5" stroke-linejoin="miter"/>
<g fill="#000"><circle cx="1243.6" cy="186.2" r="3.4"/><circle cx="1243.6" cy="252.5" r="3.4"/><circle cx="1243.6" cy="287.8" r="3.4"/><circle cx="1243.6" cy="300.7" r="3.4"/><circle cx="1243.6" cy="360.2" r="3.4"/><circle cx="1243.6" cy="379.1" r="3.4"/><circle cx="1243.6" cy="423.7" r="3.4"/><circle cx="1243.6" cy="430.7" r="3.4"/><circle cx="1243.6" cy="504.9" r="3.4"/><circle cx="1243.6" cy="528.1" r="3.4"/><circle cx="1243.6" cy="537.7" r="3.4"/><circle cx="1243.6" cy="574.8" r="3.4"/><circle cx="1243.6" cy="614" r="3.4"/><circle cx="1243.6" cy="635.3" r="3.4"/><circle cx="1243.6" cy="697.8" r="3.4"/><circle cx="1243.6" cy="749.2" r="3.4"/><circle cx="1243.6" cy="773.4" r="3.4"/><circle cx="1243.6" cy="815.1" r="3.4"/><circle cx="1243.6" cy="847.2" r="3.4"/><circle cx="1243.6" cy="884.1" r="3.4"/><circle cx="1243.6" cy="908.7" r="3.4"/><circle cx="1243.6" cy="948" r="3.4"/><circle cx="1243.6" cy="980.3" r="3.4"/><circle cx="1243.6" cy="1015.4" r="3.4"/><circle cx="1243.6" cy="1050.6" r="3.4"/><circle cx="1243.6" cy="1076" r="3.4"/><circle cx="1243.6" cy="1118.5" r="3.4"/><circle cx="1243.6" cy="1143.1" r="3.4"/><circle cx="1243.6" cy="1174.5" r="3.4"/></g>
<rect x="1837.9" y="1203.8" width="142.5" height="298" fill="#fff"/>
<rect x="1837.9" y="1276.7" width="142.5" height="225" fill="#eef6fa"/>
<rect x="1980.4" y="1203.8" width="144" height="298" fill="#fff"/>
<rect x="1980.4" y="1276.7" width="144" height="225" fill="#eef6fa"/>
<rect x="2124.6" y="1203.8" width="144.8" height="298" fill="#fff"/>
<rect x="2124.6" y="1276.7" width="144.8" height="225" fill="#eef6fa"/>
<rect x="2269.4" y="1203.8" width="143.3" height="298" fill="#fff"/>
<rect x="2269.4" y="1276.7" width="143.3" height="225" fill="#eef6fa"/>
<g clip-path="url(#cPA)">
<polygon points="1837.9,1200 1838.3,1203.8 1838.3,1215.8 1879,1224.2 1869.6,1232.5 1838.3,1238.8 1838.3,1244 1968.5,1252.3 1973.8,1262.7 1969.6,1273.1 1930,1283.5 1904,1292.9 1838.3,1305.4 1820,1310 1820,1335 1838.3,1336.7 1850.8,1342.9 1850.8,1353.3 1864.4,1361.7 1910.2,1373.1 1915.4,1383.5 1915.4,1391.9 1943.5,1402.9 1957.1,1412.7 1958.1,1422.1 1971.7,1433.5 1975.8,1442.9 1959.2,1461.7 1961.2,1472.1 1973.8,1484.6 1975.8,1503 1837.9,1503" fill="#b4c9ef" fill-opacity="0.45"/>
<polyline points="1838.3,1212 1838.3,1215.8 1879,1224.2 1869.6,1232.5 1838.3,1238.8 1838.3,1244 1968.5,1252.3 1973.8,1262.7 1969.6,1273.1 1930,1283.5 1904,1292.9 1838.3,1305.4 1820,1310 1820,1335 1838.3,1336.7 1850.8,1342.9 1850.8,1353.3 1864.4,1361.7 1910.2,1373.1 1915.4,1383.5 1915.4,1391.9 1943.5,1402.9" fill="none" stroke="#ff0000" stroke-width="3.6" stroke-linejoin="round"/>
<polyline points="1943.5,1402.9 1957.1,1412.7 1958.1,1422.1 1971.7,1433.5 1975.8,1442.9 1959.2,1461.7 1961.2,1472.1 1973.8,1484.6 1975.8,1503" fill="none" stroke="#800080" stroke-width="3.6" stroke-linejoin="round"/>
</g>
<g clip-path="url(#cPB)">
<polygon points="1980.4,1203.8 1996.7,1203.8 1985.2,1212.7 1992.5,1233.5 1985.2,1242.9 1995.6,1253.3 1997.7,1262.7 1992.5,1274 1990.4,1299.2 1994.6,1320 2002.9,1340.8 2005,1361.7 2020.6,1382.5 2007.1,1403.3 2006,1422.1 2013.5,1453.3 2032.1,1472.1 2033.1,1503 1980.4,1503" fill="#c8d0d8" fill-opacity="0.5"/>
<polygon points="1980.4,1203.8 1983.1,1203.8 1984.2,1215.8 1988.3,1233.5 1983.1,1240.8 1995.6,1253.3 1997.7,1262.7 1991.5,1273.1 1985.2,1303.3 1982.1,1320 1990.4,1340.8 1992.5,1361.7 2009.2,1382.5 2002.9,1403.3 2002.9,1422.1 2011.3,1453.3 2030,1472.1 2031,1503 1980.4,1503" fill="#d8bf88" fill-opacity="0.45"/>
<polyline points="1996.7,1203.8 1985.2,1212.7 1992.5,1233.5 1985.2,1242.9 1995.6,1253.3 1997.7,1262.7 1992.5,1274 1990.4,1299.2 1994.6,1320 2002.9,1340.8 2005,1361.7 2020.6,1382.5 2007.1,1403.3 2006,1422.1 2013.5,1453.3 2032.1,1472.1 2033.1,1503" fill="none" stroke="#8c8c8c" stroke-width="4" stroke-linejoin="round"/>
<polyline points="1983.1,1203.8 1984.2,1215.8 1988.3,1233.5 1983.1,1240.8 1995.6,1253.3 1997.7,1262.7 1991.5,1273.1 1985.2,1303.3 1982.1,1320 1990.4,1340.8 1992.5,1361.7 2009.2,1382.5 2002.9,1403.3" fill="none" stroke="#f5a623" stroke-width="3.4" stroke-linejoin="round"/>
<polyline points="2002.9,1403.3 2002.9,1422.1 2011.3,1453.3 2030,1472.1 2031,1503" fill="none" stroke="#97681c" stroke-width="3.4" stroke-linejoin="round"/>
</g>
<g clip-path="url(#cPC)">
<polygon points="2124.6,1203.8 2128.3,1203.8 2125.2,1213.8 2128,1225 2132.5,1240.8 2131.5,1258 2130.4,1274.2 2132.5,1290 2136.7,1303.3 2143,1320 2151.3,1336.7 2161,1354 2172.1,1372.1 2182,1387 2190.8,1401.3 2196,1417 2201.3,1434.6 2201,1447 2197.5,1460 2188.8,1474.2 2185.5,1487 2184.6,1503 2124.6,1503" fill="#b4c9ef" fill-opacity="0.45"/>
<polyline points="2128.3,1203.8 2127.6,1205.5 2126.6,1208 2125.6,1210.9 2125.2,1213.8 2125.4,1216.4 2126.1,1219 2127,1221.8 2128,1225 2129.1,1228.6 2130.5,1232.5 2131.7,1236.6 2132.5,1240.8 2132.6,1245 2132.3,1249.4 2131.9,1253.7 2131.5,1258 2131.2,1262.1 2130.8,1266.2 2130.5,1270.2 2130.4,1274.2 2130.7,1278.2 2131.1,1282.3 2131.8,1286.2 2132.5,1290 2133.4,1293.4 2134.3,1296.6 2135.5,1299.8 2136.7,1303.3 2138.1,1307.2 2139.6,1311.4 2141.2,1315.7 2143,1320 2144.9,1324.2 2146.9,1328.3 2149.1,1332.5 2151.3,1336.7 2153.6,1341 2156,1345.3 2158.4,1349.6 2161,1354 2163.7,1358.5 2166.5,1363.2 2169.4,1367.8 2172.1,1372.1 2174.7,1376.1 2177.2,1379.8 2179.6,1383.4 2182,1387 2184.5,1391 2187,1395.1 2189.2,1398.7 2190.8,1401.3" fill="none" stroke="#f03030" stroke-width="3.6" stroke-linejoin="round"/>
<polyline points="2190.8,1401.3 2191.7,1404.1 2193.1,1408 2194.6,1412.6 2196,1417 2197.4,1421.4 2199,1426 2200.4,1430.5 2201.3,1434.6 2201.7,1438.1 2201.7,1441.1 2201.4,1444 2201,1447 2200.5,1450.2 2199.8,1453.4 2198.8,1456.7 2197.5,1460 2195.6,1463.5 2193.1,1467.1 2190.7,1470.7 2188.8,1474.2 2187.5,1477.4 2186.7,1480.5 2186,1483.6 2185.5,1487 2185.1,1491.1 2184.8,1495.8 2184.7,1500 2184.6,1503" fill="none" stroke="#8e2a9a" stroke-width="3.6" stroke-linejoin="round"/>
<text x="2234.6" y="1437.7" font-size="14" fill="#000" font-weight="bold" text-anchor="start" >-LFC-</text>
<text x="2234.6" y="1454.4" font-size="14" fill="#000" font-weight="bold" text-anchor="start" >-LCL-</text>
</g>
<g clip-path="url(#cPD)">
<polygon points="2340,1203.8 2319,1203.8 2321,1214.8 2317.9,1236.7 2320,1255.4 2330.4,1267.9 2339.8,1282.5 2340,1282.5" fill="#82bfbf"/>
<polygon points="2340.8,1203.8 2342,1203.8 2341.5,1267.9 2349.2,1272.1 2362.7,1283.5 2362.1,1303.3 2367.9,1322.1 2374.2,1353.3 2378.3,1378.3 2383.5,1434.6 2386.7,1442.9 2387.1,1503 2340.8,1503" fill="#f7953c"/>
<line x1="2339.9" y1="1203.75" x2="2339.9" y2="1501.7" stroke="#1f77b4" stroke-width="2" stroke-dasharray="2,2.5"/>
</g>
<path d="M1837.9,1253.3 H2412.7 M1837.9,1303.3 H2412.7 M1837.9,1353.3 H2412.7 M1837.9,1403.3 H2412.7 M1837.9,1453.3 H2412.7" stroke="#a8a8a8" stroke-width="1.4" fill="none"/>
<path d="M1860.8,1501.7 v-4.5 M1907.5,1501.7 v-4.5 M1954,1501.7 v-4.5 M2005.4,1501.7 v-4.5 M2053.3,1501.7 v-4.5 M2101.9,1501.7 v-4.5 M2161.7,1501.7 v-4.5 M2197.5,1501.7 v-4.5 M2233.5,1501.7 v-4.5 M2292.5,1501.7 v-4.5 M2316.2,1501.7 v-4.5 M2340.2,1501.7 v-4.5 M2364.2,1501.7 v-4.5 M2388.1,1501.7 v-4.5" stroke="#000" stroke-width="1.2"/>
<rect x="1837.9" y="1203.8" width="142.5" height="298" fill="none" stroke="#000" stroke-width="1.6"/>
<rect x="1980.4" y="1203.8" width="144" height="298" fill="none" stroke="#000" stroke-width="1.6"/>
<rect x="2124.6" y="1203.8" width="144.8" height="298" fill="none" stroke="#000" stroke-width="1.6"/>
<rect x="2269.4" y="1203.8" width="143.3" height="298" fill="none" stroke="#000" stroke-width="1.6"/>
<text x="1860.8" y="1496" font-size="13" fill="#505050" font-weight="bold" font-style="italic" text-anchor="middle" fill-opacity="0.72">50</text>
<text x="1907.5" y="1496" font-size="13" fill="#505050" font-weight="bold" font-style="italic" text-anchor="middle" fill-opacity="0.72">70</text>
<text x="1954" y="1496" font-size="13" fill="#505050" font-weight="bold" font-style="italic" text-anchor="middle" fill-opacity="0.72">90</text>
<text x="2005.4" y="1496" font-size="13" fill="#505050" font-weight="bold" font-style="italic" text-anchor="middle" fill-opacity="0.72">.01</text>
<text x="2053.3" y="1496" font-size="13" fill="#505050" font-weight="bold" font-style="italic" text-anchor="middle" fill-opacity="0.72">.03</text>
<text x="2101.9" y="1496" font-size="13" fill="#505050" font-weight="bold" font-style="italic" text-anchor="middle" fill-opacity="0.72">.05</text>
<text x="2161.7" y="1496" font-size="13" fill="#505050" font-weight="bold" font-style="italic" text-anchor="middle" fill-opacity="0.72">20</text>
<text x="2197.5" y="1496" font-size="13" fill="#505050" font-weight="bold" font-style="italic" text-anchor="middle" fill-opacity="0.72">30</text>
<text x="2233.5" y="1496" font-size="13" fill="#505050" font-weight="bold" font-style="italic" text-anchor="middle" fill-opacity="0.72">40</text>
<text x="0" y="4.6" font-size="13" fill="#505050" fill-opacity="0.72" font-weight="bold" font-style="italic" text-anchor="middle" transform="translate(2291.9 1485) rotate(-45)">-200</text>
<text x="0" y="4.6" font-size="13" fill="#505050" fill-opacity="0.72" font-weight="bold" font-style="italic" text-anchor="middle" transform="translate(2316.3 1485) rotate(-45)">-100</text>
<text x="0" y="4.6" font-size="13" fill="#505050" fill-opacity="0.72" font-weight="bold" font-style="italic" text-anchor="middle" transform="translate(2337.6 1486.7) rotate(-45)">0</text>
<text x="0" y="4.6" font-size="13" fill="#505050" fill-opacity="0.72" font-weight="bold" font-style="italic" text-anchor="middle" transform="translate(2363.2 1487.7) rotate(-45)">1k</text>
<text x="0" y="4.6" font-size="13" fill="#505050" fill-opacity="0.72" font-weight="bold" font-style="italic" text-anchor="middle" transform="translate(2387.7 1486.5) rotate(-45)">2k</text>
<text x="1853.5" y="1303.3" font-size="13.3" fill="#000" font-weight="bold" text-anchor="start" >2 km</text>
<text x="1853.5" y="1352.3" font-size="13.3" fill="#000" font-weight="bold" text-anchor="start" >1.5 km</text>
<text x="1853.5" y="1402.3" font-size="13.3" fill="#000" font-weight="bold" text-anchor="start" >1 km</text>
<text x="1853.5" y="1452.3" font-size="13.3" fill="#000" font-weight="bold" text-anchor="start" >.5 km</text>
<text x="1910.2" y="1226.7" font-size="13.8" fill="#111" font-weight="bold" text-anchor="middle" >Streamwiseness</text>
<text x="1910.2" y="1242.5" font-size="13.8" fill="#111" font-weight="bold" text-anchor="middle" >of ζ (%)</text>
<text x="2052.9" y="1233.5" font-size="16.4" fill="#111" font-weight="bold" text-anchor="middle" >Total ζ &amp;</text>
<text x="2052.9" y="1251.3" font-size="16.4" fill="#111" font-weight="bold" text-anchor="middle" >Streamwise ζ</text>
<text x="2052.9" y="1269" font-size="16.4" fill="#111" font-weight="bold" text-anchor="middle" >(/sec)</text>
<text x="2196" y="1238.8" font-size="16.4" fill="#111" font-weight="bold" text-anchor="middle" >Storm Relative</text>
<text x="2196" y="1255.4" font-size="16.4" fill="#111" font-weight="bold" text-anchor="middle" >Wind (kts)</text>
<text x="2341.9" y="1233.5" font-size="16.2" fill="#111" font-weight="bold" text-anchor="middle" >Stepwise</text>
<text x="2341.9" y="1251.7" font-size="16.2" fill="#111" font-weight="bold" text-anchor="middle" >CIN &amp; CAPE</text>
<text x="2341.9" y="1269" font-size="16.2" fill="#111" font-weight="bold" text-anchor="middle" >(J/kg)</text>
<circle cx="77.1" cy="1475.7" r="32.2" fill="#e6eaf5" stroke="#222" stroke-width="1.6"/>
<path d="M70,1447 Q64,1470 74,1492 M60,1455 L95,1500 M50,1480 L104,1470" stroke="#e8b0b0" stroke-width="0.6" fill="none"/>
<path d="M58,1478 q6,-5 2,-9 q-5,4 3,8 q6,3 1,8" stroke="#a8d8a8" stroke-width="1" fill="none"/>
<text x="47.4" y="1473.8" font-size="11.5" font-weight="bold" fill="#000" textLength="55.7" lengthAdjust="spacingAndGlyphs">SOUNDER</text>
<text x="77.6" y="1488.8" font-size="21.5" fill="#3a8a2a">P</text>
<text x="91.2" y="1488.8" font-size="21.5" fill="#cc1111">Y</text>
<text x="77.1" y="1498.5" font-size="4.2" fill="#000" text-anchor="middle">SOUNDING DATA ANALYSIS</text>
<text x="77.1" y="1502.5" font-size="4.2" fill="#000" text-anchor="middle">FOR PYTHON</text>
<text x="133.8" y="1471.4" font-size="27.7" fill="#a4c2f4" font-weight="bold" text-anchor="start" >SOUNDERPY VERTICAL PROFILE ANALYSIS TOOL</text>
<text x="206" y="1497.5" font-size="20.8" fill="#a4c2f4" font-weight="bold" text-anchor="start" >(C) KYLE J GILLETT | sounderpysoundings.anvil.app</text>
<path d="M0,0 H2452 V1532 H0 Z M7,6 V1525 H2445 V6 Z" fill="#000" fill-rule="evenodd"/>
</svg></body></html>
